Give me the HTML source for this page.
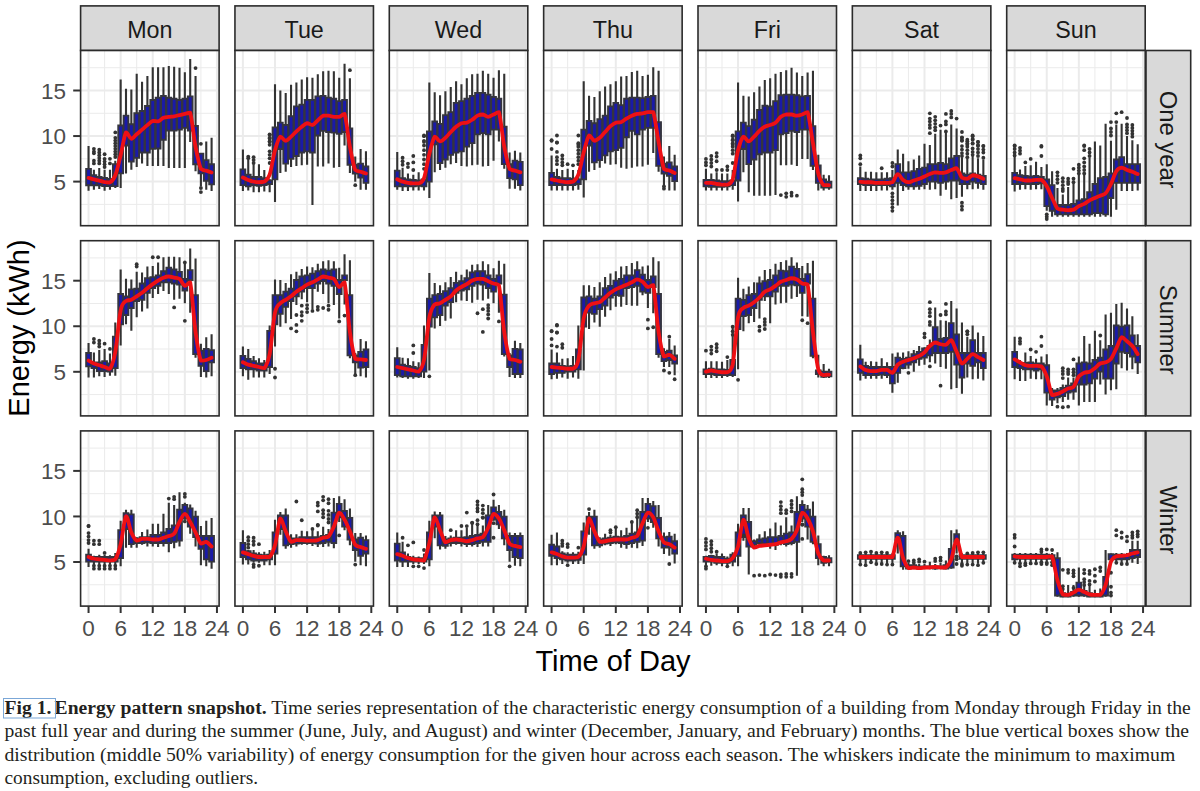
<!DOCTYPE html><html><head><meta charset="utf-8"><style>html,body{margin:0;padding:0;background:#fff;width:1200px;height:791px;overflow:hidden}svg{display:block}</style></head><body>
<svg width="1200" height="791" viewBox="0 0 1200 791">
<rect width="1200" height="791" fill="#fff"/>
<rect x="80.60" y="5.9" width="138.50" height="44.60" fill="#d9d9d9" stroke="#2b2b2b" stroke-width="1.6"/>
<text x="149.85" y="37.5" font-family="Liberation Sans" font-size="23.3" fill="#1a1a1a" text-anchor="middle">Mon</text>
<rect x="234.95" y="5.9" width="138.50" height="44.60" fill="#d9d9d9" stroke="#2b2b2b" stroke-width="1.6"/>
<text x="304.20" y="37.5" font-family="Liberation Sans" font-size="23.3" fill="#1a1a1a" text-anchor="middle">Tue</text>
<rect x="389.30" y="5.9" width="138.50" height="44.60" fill="#d9d9d9" stroke="#2b2b2b" stroke-width="1.6"/>
<text x="458.55" y="37.5" font-family="Liberation Sans" font-size="23.3" fill="#1a1a1a" text-anchor="middle">Wed</text>
<rect x="543.65" y="5.9" width="138.50" height="44.60" fill="#d9d9d9" stroke="#2b2b2b" stroke-width="1.6"/>
<text x="612.90" y="37.5" font-family="Liberation Sans" font-size="23.3" fill="#1a1a1a" text-anchor="middle">Thu</text>
<rect x="698.00" y="5.9" width="138.50" height="44.60" fill="#d9d9d9" stroke="#2b2b2b" stroke-width="1.6"/>
<text x="767.25" y="37.5" font-family="Liberation Sans" font-size="23.3" fill="#1a1a1a" text-anchor="middle">Fri</text>
<rect x="852.35" y="5.9" width="138.50" height="44.60" fill="#d9d9d9" stroke="#2b2b2b" stroke-width="1.6"/>
<text x="921.60" y="37.5" font-family="Liberation Sans" font-size="23.3" fill="#1a1a1a" text-anchor="middle">Sat</text>
<rect x="1006.70" y="5.9" width="138.50" height="44.60" fill="#d9d9d9" stroke="#2b2b2b" stroke-width="1.6"/>
<text x="1075.95" y="37.5" font-family="Liberation Sans" font-size="23.3" fill="#1a1a1a" text-anchor="middle">Sun</text>
<rect x="1146" y="50.50" width="44.7" height="175.20" fill="#d9d9d9" stroke="#2b2b2b" stroke-width="1.6"/>
<text transform="translate(1160,139.60) rotate(90)" x="0" y="0" font-family="Liberation Sans" font-size="23.8" fill="#1a1a1a" text-anchor="middle">One year</text>
<rect x="1146" y="240.70" width="44.7" height="175.20" fill="#d9d9d9" stroke="#2b2b2b" stroke-width="1.6"/>
<text transform="translate(1160,329.80) rotate(90)" x="0" y="0" font-family="Liberation Sans" font-size="23.8" fill="#1a1a1a" text-anchor="middle">Summer</text>
<rect x="1146" y="430.90" width="44.7" height="175.20" fill="#d9d9d9" stroke="#2b2b2b" stroke-width="1.6"/>
<text transform="translate(1160,520.00) rotate(90)" x="0" y="0" font-family="Liberation Sans" font-size="23.8" fill="#1a1a1a" text-anchor="middle">Winter</text>
<rect x="80.60" y="50.50" width="138.50" height="175.20" fill="#fff"/>
<path d="M104.60 50.50V225.70M136.70 50.50V225.70M168.80 50.50V225.70M200.90 50.50V225.70M80.60 204.38H219.10M80.60 158.82H219.10M80.60 113.28H219.10M80.60 67.72H219.10" stroke="#ebebeb" stroke-width="1" fill="none"/>
<path d="M88.55 50.50V225.70M120.65 50.50V225.70M152.75 50.50V225.70M184.85 50.50V225.70M216.95 50.50V225.70M80.60 181.60H219.10M80.60 136.05H219.10M80.60 90.50H219.10" stroke="#ebebeb" stroke-width="2" fill="none"/>
<path d="M88.55 146.07V190.71M93.90 169.76V189.80M99.25 167.94V188.89M104.60 169.76V190.71M109.95 169.76V189.80M115.30 160.65V187.98M120.65 79.57V187.98M126.00 88.68V173.40M131.35 89.59V169.76M136.70 73.65V167.02M142.05 81.85V163.38M147.40 75.92V166.11M152.75 67.27V166.11M158.10 67.27V166.11M163.45 67.27V166.11M168.80 65.90V167.94M174.15 66.81V167.94M179.50 67.72V167.94M184.85 72.28V167.94M190.20 59.07V141.97M195.55 75.92V171.21M200.90 153.36V186.16M206.25 141.52V189.80M211.60 137.87V190.98" stroke="#333" stroke-width="2.1" fill="none"/>
<path d="M86.15 168.85h4.8V185.24h-4.8ZM91.50 175.22h4.8V185.24h-4.8ZM96.85 177.04h4.8V185.24h-4.8ZM102.20 177.96h4.8V186.16h-4.8ZM107.55 178.87h4.8V186.16h-4.8ZM112.90 164.29h4.8V186.16h-4.8ZM118.25 125.57h4.8V173.40h-4.8ZM123.60 115.64h4.8V145.52h-4.8ZM128.95 124.21h4.8V161.56h-4.8ZM134.30 113.28h4.8V157.91h-4.8ZM139.65 111.00h4.8V152.45h-4.8ZM145.00 105.99h4.8V152.45h-4.8ZM150.35 99.97h4.8V148.80h-4.8ZM155.70 97.79h4.8V148.44h-4.8ZM161.05 95.97h4.8V139.69h-4.8ZM166.40 97.79h4.8V130.58h-4.8ZM171.75 98.70h4.8V130.58h-4.8ZM177.10 99.97h4.8V129.67h-4.8ZM182.45 98.70h4.8V127.85h-4.8ZM187.80 96.42h4.8V130.58h-4.8ZM193.15 126.03h4.8V164.29h-4.8ZM198.50 153.63h4.8V173.40h-4.8ZM203.85 160.10h4.8V180.69h-4.8ZM209.20 164.29h4.8V184.33h-4.8Z" stroke="#35353f" stroke-width="1.9" fill="#1a1aa8"/>
<g fill="#333"><circle cx="93.90" cy="148.80" r="1.9"/><circle cx="93.90" cy="151.54" r="1.9"/><circle cx="93.90" cy="153.36" r="1.9"/><circle cx="93.90" cy="160.65" r="1.9"/><circle cx="93.90" cy="163.38" r="1.9"/><circle cx="99.25" cy="149.72" r="1.9"/><circle cx="99.25" cy="152.45" r="1.9"/><circle cx="99.25" cy="155.18" r="1.9"/><circle cx="99.25" cy="157.91" r="1.9"/><circle cx="99.25" cy="160.65" r="1.9"/><circle cx="99.25" cy="163.38" r="1.9"/><circle cx="104.60" cy="154.27" r="1.9"/><circle cx="104.60" cy="158.82" r="1.9"/><circle cx="104.60" cy="161.56" r="1.9"/><circle cx="104.60" cy="164.29" r="1.9"/><circle cx="104.60" cy="167.02" r="1.9"/><circle cx="109.95" cy="158.82" r="1.9"/><circle cx="109.95" cy="163.38" r="1.9"/><circle cx="115.30" cy="132.41" r="1.9"/><circle cx="115.30" cy="137.87" r="1.9"/><circle cx="115.30" cy="140.60" r="1.9"/><circle cx="115.30" cy="143.34" r="1.9"/><circle cx="115.30" cy="146.07" r="1.9"/><circle cx="115.30" cy="148.80" r="1.9"/><circle cx="115.30" cy="151.54" r="1.9"/><circle cx="115.30" cy="154.27" r="1.9"/><circle cx="115.30" cy="157.00" r="1.9"/><circle cx="195.55" cy="68.09" r="1.9"/><circle cx="200.90" cy="143.79" r="1.9"/><circle cx="200.90" cy="187.98" r="1.9"/><circle cx="200.90" cy="192.08" r="1.9"/></g>
<path d="M88.55 177.96C89.44 178.19 92.12 178.87 93.90 179.32C95.68 179.77 97.47 180.23 99.25 180.69C101.03 181.15 102.82 181.76 104.60 182.06C106.38 182.36 108.17 182.51 109.95 182.51C111.73 181.37 113.52 179.78 115.30 175.22C117.08 170.66 118.87 162.31 120.65 155.18C122.43 148.05 124.22 135.14 126.00 132.41C127.78 132.41 129.57 138.48 131.35 138.78C133.13 138.78 134.92 135.75 136.70 134.23C138.48 132.71 140.27 131.19 142.05 129.67C143.83 128.15 145.62 126.58 147.40 125.12C149.18 123.66 150.97 121.54 152.75 120.93C154.53 120.93 156.32 121.47 158.10 121.47C159.88 120.95 161.67 118.59 163.45 117.83C165.23 117.07 167.02 117.18 168.80 116.92C170.58 116.66 172.37 116.58 174.15 116.28C175.93 115.98 177.72 115.49 179.50 115.10C181.28 114.70 183.07 114.30 184.85 113.91C186.63 113.52 188.42 112.73 190.20 112.73C191.98 118.24 193.77 137.63 195.55 146.98C197.33 156.33 199.12 164.90 200.90 168.85C202.68 170.67 204.47 170.06 206.25 170.67C208.03 171.28 210.71 172.19 211.60 172.49" stroke="#ee1014" stroke-width="3.8" stroke-linecap="round" fill="none" stroke-linejoin="round"/>
<rect x="80.60" y="50.50" width="138.50" height="175.20" fill="none" stroke="#2b2b2b" stroke-width="1.6"/>
<rect x="234.95" y="50.50" width="138.50" height="175.20" fill="#fff"/>
<path d="M258.95 50.50V225.70M291.05 50.50V225.70M323.15 50.50V225.70M355.25 50.50V225.70M234.95 204.38H373.45M234.95 158.82H373.45M234.95 113.28H373.45M234.95 67.72H373.45" stroke="#ebebeb" stroke-width="1" fill="none"/>
<path d="M242.90 50.50V225.70M275.00 50.50V225.70M307.10 50.50V225.70M339.20 50.50V225.70M371.30 50.50V225.70M234.95 181.60H373.45M234.95 136.05H373.45M234.95 90.50H373.45" stroke="#ebebeb" stroke-width="2" fill="none"/>
<path d="M242.90 149.58V191.00M248.25 160.08V190.42M253.60 164.17V192.17M258.95 164.17V192.17M264.30 170.00V191.58M269.65 179.33V192.17M275.00 84.17V202.08M280.35 90.58V172.92M285.70 92.92V171.75M291.05 84.75V167.08M296.40 82.42V165.92M301.75 79.50V165.33M307.10 77.17V164.75M312.45 77.75V205.00M317.80 74.25V166.50M323.15 71.33V166.50M328.50 70.75V163.58M333.85 71.33V167.67M339.20 77.75V167.08M344.55 63.75V145.50M349.90 78.33V172.92M355.25 156.58V181.67M360.60 149.00V189.83M365.95 151.33V189.83" stroke="#333" stroke-width="2.1" fill="none"/>
<path d="M240.50 169.42h4.8V185.17h-4.8ZM245.85 174.67h4.8V186.33h-4.8ZM251.20 177.00h4.8V185.17h-4.8ZM256.55 177.00h4.8V185.75h-4.8ZM261.90 178.17h4.8V185.17h-4.8ZM267.25 180.50h4.8V184.00h-4.8ZM272.60 127.33h4.8V179.33h-4.8ZM277.95 122.67h4.8V149.00h-4.8ZM283.30 125.00h4.8V163.58h-4.8ZM288.65 116.25h4.8V158.92h-4.8ZM294.00 106.33h4.8V156.00h-4.8ZM299.35 104.58h4.8V152.50h-4.8ZM304.70 99.92h4.8V151.33h-4.8ZM310.05 99.92h4.8V152.50h-4.8ZM315.40 96.42h4.8V135.50h-4.8ZM320.75 95.83h4.8V130.83h-4.8ZM326.10 97.58h4.8V132.00h-4.8ZM331.45 98.75h4.8V132.58h-4.8ZM336.80 101.08h4.8V133.75h-4.8ZM342.15 99.92h4.8V132.00h-4.8ZM347.50 128.50h4.8V164.75h-4.8ZM352.85 164.75h4.8V173.50h-4.8ZM358.20 163.58h4.8V177.58h-4.8ZM363.55 166.50h4.8V182.83h-4.8Z" stroke="#35353f" stroke-width="1.9" fill="#1a1aa8"/>
<g fill="#333"><circle cx="248.25" cy="156.58" r="1.9"/><circle cx="248.25" cy="158.33" r="1.9"/><circle cx="253.60" cy="157.17" r="1.9"/><circle cx="253.60" cy="160.08" r="1.9"/><circle cx="253.60" cy="163.00" r="1.9"/><circle cx="269.65" cy="134.33" r="1.9"/><circle cx="269.65" cy="137.83" r="1.9"/><circle cx="269.65" cy="141.33" r="1.9"/><circle cx="269.65" cy="144.83" r="1.9"/><circle cx="269.65" cy="135.00" r="1.9"/><circle cx="269.65" cy="138.50" r="1.9"/><circle cx="269.65" cy="142.00" r="1.9"/><circle cx="269.65" cy="151.33" r="1.9"/><circle cx="269.65" cy="154.83" r="1.9"/><circle cx="269.65" cy="158.33" r="1.9"/><circle cx="269.65" cy="163.00" r="1.9"/><circle cx="349.90" cy="70.17" r="1.9"/><circle cx="355.25" cy="185.17" r="1.9"/></g>
<path d="M242.90 177.58C243.79 177.97 246.47 179.24 248.25 179.92C250.03 180.60 251.82 181.28 253.60 181.67C255.38 182.06 257.17 182.25 258.95 182.25C260.73 182.25 262.52 182.25 264.30 181.67C266.08 180.41 267.87 179.92 269.65 174.67C271.43 169.42 273.22 156.50 275.00 150.17C276.78 143.84 278.57 138.24 280.35 136.67C282.13 136.67 283.92 140.75 285.70 140.75C287.48 140.75 289.27 138.22 291.05 136.67C292.83 135.11 294.62 133.07 296.40 131.42C298.18 129.77 299.97 128.11 301.75 126.75C303.53 125.39 305.32 123.54 307.10 123.25C308.88 123.25 310.67 125.00 312.45 125.00C314.23 124.51 316.02 121.88 317.80 120.33C319.58 118.78 321.37 116.45 323.15 115.67C324.93 115.67 326.72 115.67 328.50 115.67C330.28 115.86 332.07 116.64 333.85 116.83C335.63 116.83 337.42 116.83 339.20 116.83C340.98 116.34 342.77 113.92 344.55 113.92C346.33 118.89 348.12 137.32 349.90 146.67C351.68 156.02 353.47 165.82 355.25 170.00C357.03 171.75 358.82 171.17 360.60 171.75C362.38 172.33 365.06 173.21 365.95 173.50" stroke="#ee1014" stroke-width="3.8" stroke-linecap="round" fill="none" stroke-linejoin="round"/>
<rect x="234.95" y="50.50" width="138.50" height="175.20" fill="none" stroke="#2b2b2b" stroke-width="1.6"/>
<rect x="389.30" y="50.50" width="138.50" height="175.20" fill="#fff"/>
<path d="M413.30 50.50V225.70M445.40 50.50V225.70M477.50 50.50V225.70M509.60 50.50V225.70M389.30 204.38H527.80M389.30 158.82H527.80M389.30 113.28H527.80M389.30 67.72H527.80" stroke="#ebebeb" stroke-width="1" fill="none"/>
<path d="M397.25 50.50V225.70M429.35 50.50V225.70M461.45 50.50V225.70M493.55 50.50V225.70M525.65 50.50V225.70M389.30 181.60H527.80M389.30 136.05H527.80M389.30 90.50H527.80" stroke="#ebebeb" stroke-width="2" fill="none"/>
<path d="M397.25 151.92V189.83M402.60 167.67V191.00M407.95 173.50V191.00M413.30 174.67V190.42M418.65 172.33V190.42M424.00 179.33V190.42M429.35 82.42V198.00M434.70 92.33V172.33M440.05 95.25V170.00M445.40 91.17V167.67M450.75 87.08V164.17M456.10 81.25V163.00M461.45 84.17V165.92M466.80 78.33V166.50M472.15 74.25V165.33M477.50 73.67V164.75M482.85 70.75V166.50M488.20 73.67V165.92M493.55 77.75V160.67M498.90 70.17V141.42M504.25 73.67V168.83M509.60 152.50V188.67M514.95 150.75V188.67M520.30 152.50V190.42" stroke="#333" stroke-width="2.1" fill="none"/>
<path d="M394.85 170.58h4.8V186.33h-4.8ZM400.20 178.17h4.8V186.33h-4.8ZM405.55 179.33h4.8V186.33h-4.8ZM410.90 179.92h4.8V186.33h-4.8ZM416.25 180.50h4.8V185.75h-4.8ZM421.60 179.33h4.8V186.33h-4.8ZM426.95 131.42h4.8V181.67h-4.8ZM432.30 121.50h4.8V144.33h-4.8ZM437.65 123.83h4.8V163.00h-4.8ZM443.00 115.08h4.8V159.50h-4.8ZM448.35 112.17h4.8V154.83h-4.8ZM453.70 102.83h4.8V152.50h-4.8ZM459.05 101.08h4.8V151.33h-4.8ZM464.40 98.75h4.8V146.67h-4.8ZM469.75 95.83h4.8V143.17h-4.8ZM475.10 92.92h4.8V134.33h-4.8ZM480.45 92.92h4.8V133.17h-4.8ZM485.80 94.67h4.8V134.33h-4.8ZM491.15 97.00h4.8V129.67h-4.8ZM496.50 98.75h4.8V129.67h-4.8ZM501.85 126.75h4.8V164.17h-4.8ZM507.20 164.17h4.8V178.17h-4.8ZM512.55 160.67h4.8V179.33h-4.8ZM517.90 161.83h4.8V185.17h-4.8Z" stroke="#35353f" stroke-width="1.9" fill="#1a1aa8"/>
<g fill="#333"><circle cx="402.60" cy="157.75" r="1.9"/><circle cx="402.60" cy="161.25" r="1.9"/><circle cx="402.60" cy="164.75" r="1.9"/><circle cx="407.95" cy="163.58" r="1.9"/><circle cx="407.95" cy="167.08" r="1.9"/><circle cx="413.30" cy="156.00" r="1.9"/><circle cx="413.30" cy="162.42" r="1.9"/><circle cx="413.30" cy="170.00" r="1.9"/><circle cx="424.00" cy="135.50" r="1.9"/><circle cx="424.00" cy="141.92" r="1.9"/><circle cx="424.00" cy="136.17" r="1.9"/><circle cx="424.00" cy="140.83" r="1.9"/><circle cx="424.00" cy="145.50" r="1.9"/><circle cx="424.00" cy="150.17" r="1.9"/><circle cx="424.00" cy="154.83" r="1.9"/><circle cx="424.00" cy="159.50" r="1.9"/><circle cx="424.00" cy="164.17" r="1.9"/><circle cx="424.00" cy="168.83" r="1.9"/></g>
<path d="M397.25 179.33C398.14 179.72 400.82 181.09 402.60 181.67C404.38 182.25 406.17 182.54 407.95 182.83C409.73 183.12 411.52 183.32 413.30 183.42C415.08 183.42 416.87 183.42 418.65 183.42C420.43 182.54 422.22 183.13 424.00 178.17C425.78 173.21 427.57 160.59 429.35 153.67C431.13 146.75 432.92 138.73 434.70 136.67C436.48 136.67 438.27 141.14 440.05 141.33C441.83 141.33 443.62 139.39 445.40 137.83C447.18 136.28 448.97 133.85 450.75 132.00C452.53 130.15 454.32 128.21 456.10 126.75C457.88 125.29 459.67 123.93 461.45 123.25C463.23 122.67 465.02 123.25 466.80 122.67C468.58 122.09 470.37 120.92 472.15 119.75C473.93 118.58 475.72 116.55 477.50 115.67C479.28 114.80 481.07 114.50 482.85 114.50C484.63 114.69 486.42 116.83 488.20 116.83C489.98 116.83 491.77 115.28 493.55 114.50C495.33 113.72 497.12 112.17 498.90 112.17C500.68 117.53 502.47 137.23 504.25 146.67C506.03 156.11 507.82 164.84 509.60 168.83C511.38 170.58 513.17 170.00 514.95 170.58C516.73 171.16 519.41 172.04 520.30 172.33" stroke="#ee1014" stroke-width="3.8" stroke-linecap="round" fill="none" stroke-linejoin="round"/>
<rect x="389.30" y="50.50" width="138.50" height="175.20" fill="none" stroke="#2b2b2b" stroke-width="1.6"/>
<rect x="543.65" y="50.50" width="138.50" height="175.20" fill="#fff"/>
<path d="M567.65 50.50V225.70M599.75 50.50V225.70M631.85 50.50V225.70M663.95 50.50V225.70M543.65 204.38H682.15M543.65 158.82H682.15M543.65 113.28H682.15M543.65 67.72H682.15" stroke="#ebebeb" stroke-width="1" fill="none"/>
<path d="M551.60 50.50V225.70M583.70 50.50V225.70M615.80 50.50V225.70M647.90 50.50V225.70M680.00 50.50V225.70M543.65 181.60H682.15M543.65 136.05H682.15M543.65 90.50H682.15" stroke="#ebebeb" stroke-width="2" fill="none"/>
<path d="M551.60 155.42V190.42M556.95 168.83V190.42M562.30 170.00V190.42M567.65 168.83V190.42M573.00 170.00V190.42M578.35 170.00V189.83M583.70 81.25V197.42M589.05 95.83V171.75M594.40 97.00V170.00M599.75 91.17V167.67M605.10 86.50V163.58M610.45 84.17V164.75M615.80 81.25V164.17M621.15 76.58V167.67M626.50 76.00V168.83M631.85 71.92V167.67M637.20 70.75V166.50M642.55 76.00V166.50M647.90 74.83V164.75M653.25 67.25V153.08M658.60 70.75V171.75M663.95 156.58V185.17M669.30 146.08V190.42M674.65 154.83V190.42" stroke="#333" stroke-width="2.1" fill="none"/>
<path d="M549.20 172.92h4.8V185.17h-4.8ZM554.55 177.00h4.8V185.17h-4.8ZM559.90 178.17h4.8V185.17h-4.8ZM565.25 178.17h4.8V185.17h-4.8ZM570.60 178.75h4.8V185.17h-4.8ZM575.95 179.33h4.8V184.00h-4.8ZM581.30 129.67h4.8V179.33h-4.8ZM586.65 120.92h4.8V145.50h-4.8ZM592.00 123.25h4.8V162.42h-4.8ZM597.35 119.17h4.8V160.08h-4.8ZM602.70 115.67h4.8V155.42h-4.8ZM608.05 106.33h4.8V151.33h-4.8ZM613.40 102.83h4.8V150.17h-4.8ZM618.75 105.17h4.8V147.83h-4.8ZM624.10 98.75h4.8V137.25h-4.8ZM629.45 97.58h4.8V130.83h-4.8ZM634.80 97.58h4.8V134.33h-4.8ZM640.15 98.17h4.8V129.67h-4.8ZM645.50 97.00h4.8V127.92h-4.8ZM650.85 95.83h4.8V127.92h-4.8ZM656.20 122.08h4.8V165.92h-4.8ZM661.55 163.58h4.8V173.50h-4.8ZM666.90 162.42h4.8V175.83h-4.8ZM672.25 166.50h4.8V181.08h-4.8Z" stroke="#35353f" stroke-width="1.9" fill="#1a1aa8"/>
<g fill="#333"><circle cx="551.60" cy="140.75" r="1.9"/><circle cx="551.60" cy="140.25" r="1.9"/><circle cx="551.60" cy="149.00" r="1.9"/><circle cx="556.95" cy="135.50" r="1.9"/><circle cx="556.95" cy="142.50" r="1.9"/><circle cx="556.95" cy="142.58" r="1.9"/><circle cx="556.95" cy="151.92" r="1.9"/><circle cx="556.95" cy="157.17" r="1.9"/><circle cx="556.95" cy="160.67" r="1.9"/><circle cx="556.95" cy="164.17" r="1.9"/><circle cx="562.30" cy="155.42" r="1.9"/><circle cx="562.30" cy="158.92" r="1.9"/><circle cx="562.30" cy="162.42" r="1.9"/><circle cx="562.30" cy="165.33" r="1.9"/><circle cx="567.65" cy="164.17" r="1.9"/><circle cx="573.00" cy="165.33" r="1.9"/><circle cx="578.35" cy="135.50" r="1.9"/><circle cx="578.35" cy="144.83" r="1.9"/><circle cx="578.35" cy="143.17" r="1.9"/><circle cx="578.35" cy="146.67" r="1.9"/><circle cx="578.35" cy="150.17" r="1.9"/><circle cx="578.35" cy="153.67" r="1.9"/><circle cx="578.35" cy="157.17" r="1.9"/><circle cx="578.35" cy="160.67" r="1.9"/><circle cx="578.35" cy="164.17" r="1.9"/><circle cx="663.95" cy="186.33" r="1.9"/><circle cx="663.95" cy="188.67" r="1.9"/></g>
<path d="M551.60 179.33C552.49 179.53 555.17 180.11 556.95 180.50C558.73 180.89 560.52 181.38 562.30 181.67C564.08 181.96 565.87 182.25 567.65 182.25C569.43 182.25 571.22 182.25 573.00 181.67C574.78 180.41 576.57 179.53 578.35 174.67C580.13 169.81 581.92 159.03 583.70 152.50C585.48 145.97 587.27 137.46 589.05 135.50C590.83 135.50 592.62 140.36 594.40 140.75C596.18 140.75 597.97 139.29 599.75 137.83C601.53 136.37 603.32 133.94 605.10 132.00C606.88 130.06 608.67 127.72 610.45 126.17C612.23 124.62 614.02 123.35 615.80 122.67C617.58 122.08 619.37 122.67 621.15 122.08C622.93 121.40 624.72 119.65 626.50 118.58C628.28 117.51 630.07 116.45 631.85 115.67C633.63 114.89 635.42 114.31 637.20 113.92C638.98 113.53 640.77 113.62 642.55 113.33C644.33 113.04 646.12 112.36 647.90 112.17C649.68 112.17 651.47 112.17 653.25 112.17C655.03 117.14 656.82 132.56 658.60 142.00C660.38 151.44 662.17 164.07 663.95 168.83C665.73 170.58 667.52 169.90 669.30 170.58C671.08 171.26 673.76 172.53 674.65 172.92" stroke="#ee1014" stroke-width="3.8" stroke-linecap="round" fill="none" stroke-linejoin="round"/>
<rect x="543.65" y="50.50" width="138.50" height="175.20" fill="none" stroke="#2b2b2b" stroke-width="1.6"/>
<rect x="698.00" y="50.50" width="138.50" height="175.20" fill="#fff"/>
<path d="M722.00 50.50V225.70M754.10 50.50V225.70M786.20 50.50V225.70M818.30 50.50V225.70M698.00 204.38H836.50M698.00 158.82H836.50M698.00 113.28H836.50M698.00 67.72H836.50" stroke="#ebebeb" stroke-width="1" fill="none"/>
<path d="M705.95 50.50V225.70M738.05 50.50V225.70M770.15 50.50V225.70M802.25 50.50V225.70M834.35 50.50V225.70M698.00 181.60H836.50M698.00 136.05H836.50M698.00 90.50H836.50" stroke="#ebebeb" stroke-width="2" fill="none"/>
<path d="M705.95 168.83V190.42M711.30 173.50V190.42M716.65 172.33V190.42M722.00 173.50V190.42M727.35 173.50V190.42M732.70 170.00V189.83M738.05 82.42V201.50M743.40 95.83V172.33M748.75 96.42V192.17M754.10 92.33V195.67M759.45 86.50V195.67M764.80 80.08V195.67M770.15 78.33V195.67M775.50 73.67V195.08M780.85 71.92V165.33M786.20 70.17V165.33M791.55 67.83V164.75M796.90 72.50V165.92M802.25 76.00V158.92M807.60 72.50V158.92M812.95 70.75V170.00M818.30 154.83V190.42M823.65 174.67V190.42M829.00 175.25V189.83" stroke="#333" stroke-width="2.1" fill="none"/>
<path d="M703.55 179.92h4.8V186.33h-4.8ZM708.90 179.92h4.8V186.92h-4.8ZM714.25 180.50h4.8V186.92h-4.8ZM719.60 181.08h4.8V186.92h-4.8ZM724.95 181.08h4.8V186.33h-4.8ZM730.30 180.50h4.8V185.17h-4.8ZM735.65 131.42h4.8V180.50h-4.8ZM741.00 122.67h4.8V149.00h-4.8ZM746.35 126.17h4.8V164.17h-4.8ZM751.70 119.75h4.8V159.50h-4.8ZM757.05 109.83h4.8V154.25h-4.8ZM762.40 105.75h4.8V152.50h-4.8ZM767.75 106.33h4.8V152.50h-4.8ZM773.10 101.08h4.8V150.17h-4.8ZM778.45 95.25h4.8V134.33h-4.8ZM783.80 94.67h4.8V133.17h-4.8ZM789.15 94.67h4.8V130.83h-4.8ZM794.50 95.25h4.8V132.00h-4.8ZM799.85 96.42h4.8V129.67h-4.8ZM805.20 95.83h4.8V129.67h-4.8ZM810.55 126.17h4.8V165.92h-4.8ZM815.90 165.33h4.8V182.83h-4.8ZM821.25 179.33h4.8V187.50h-4.8ZM826.60 181.67h4.8V187.50h-4.8Z" stroke="#35353f" stroke-width="1.9" fill="#1a1aa8"/>
<g fill="#333"><circle cx="705.95" cy="158.92" r="1.9"/><circle cx="705.95" cy="162.42" r="1.9"/><circle cx="705.95" cy="165.33" r="1.9"/><circle cx="711.30" cy="156.00" r="1.9"/><circle cx="711.30" cy="159.50" r="1.9"/><circle cx="711.30" cy="163.00" r="1.9"/><circle cx="711.30" cy="166.50" r="1.9"/><circle cx="716.65" cy="153.08" r="1.9"/><circle cx="716.65" cy="156.58" r="1.9"/><circle cx="716.65" cy="161.25" r="1.9"/><circle cx="716.65" cy="170.00" r="1.9"/><circle cx="722.00" cy="170.00" r="1.9"/><circle cx="727.35" cy="166.50" r="1.9"/><circle cx="727.35" cy="170.00" r="1.9"/><circle cx="732.70" cy="135.50" r="1.9"/><circle cx="732.70" cy="140.17" r="1.9"/><circle cx="732.70" cy="144.83" r="1.9"/><circle cx="732.70" cy="136.17" r="1.9"/><circle cx="732.70" cy="139.67" r="1.9"/><circle cx="732.70" cy="143.17" r="1.9"/><circle cx="732.70" cy="146.67" r="1.9"/><circle cx="732.70" cy="150.17" r="1.9"/><circle cx="732.70" cy="153.67" r="1.9"/><circle cx="732.70" cy="163.00" r="1.9"/><circle cx="780.85" cy="195.08" r="1.9"/><circle cx="786.20" cy="193.33" r="1.9"/><circle cx="786.20" cy="196.83" r="1.9"/><circle cx="791.55" cy="192.75" r="1.9"/><circle cx="791.55" cy="195.67" r="1.9"/><circle cx="796.90" cy="195.67" r="1.9"/></g>
<path d="M705.95 182.83C706.84 182.83 709.52 182.83 711.30 182.83C713.08 183.03 714.87 183.71 716.65 184.00C718.43 184.29 720.22 184.48 722.00 184.58C723.78 184.58 725.57 184.58 727.35 184.58C729.13 183.71 730.92 184.58 732.70 179.33C734.48 173.59 736.27 157.28 738.05 150.17C739.83 143.06 741.62 138.14 743.40 136.67C745.18 136.67 746.97 141.33 748.75 141.33C750.53 141.33 752.32 138.42 754.10 136.67C755.88 134.92 757.67 132.48 759.45 130.83C761.23 129.18 763.02 127.72 764.80 126.75C766.58 125.78 768.37 125.68 770.15 125.00C771.93 124.32 773.72 124.03 775.50 122.67C777.28 121.31 779.07 118.19 780.85 116.83C782.63 115.47 784.42 114.89 786.20 114.50C787.98 114.50 789.77 114.50 791.55 114.50C793.33 114.69 795.12 115.67 796.90 115.67C798.68 115.67 800.47 115.08 802.25 114.50C804.03 113.92 805.82 112.17 807.60 112.17C809.38 116.95 811.17 132.95 812.95 143.17C814.73 153.39 816.52 166.50 818.30 173.50C820.08 180.50 821.87 183.22 823.65 185.17C825.43 185.17 828.11 185.17 829.00 185.17" stroke="#ee1014" stroke-width="3.8" stroke-linecap="round" fill="none" stroke-linejoin="round"/>
<rect x="698.00" y="50.50" width="138.50" height="175.20" fill="none" stroke="#2b2b2b" stroke-width="1.6"/>
<rect x="852.35" y="50.50" width="138.50" height="175.20" fill="#fff"/>
<path d="M876.35 50.50V225.70M908.45 50.50V225.70M940.55 50.50V225.70M972.65 50.50V225.70M852.35 204.38H990.85M852.35 158.82H990.85M852.35 113.28H990.85M852.35 67.72H990.85" stroke="#ebebeb" stroke-width="1" fill="none"/>
<path d="M860.30 50.50V225.70M892.40 50.50V225.70M924.50 50.50V225.70M956.60 50.50V225.70M988.70 50.50V225.70M852.35 181.60H990.85M852.35 136.05H990.85M852.35 90.50H990.85" stroke="#ebebeb" stroke-width="2" fill="none"/>
<path d="M860.30 166.50V191.00M865.65 171.75V191.00M871.00 171.75V191.00M876.35 172.33V191.00M881.70 172.33V190.42M887.05 172.33V190.42M892.40 170.00V189.83M897.75 149.58V205.58M903.10 153.67V191.00M908.45 161.25V189.83M913.80 159.50V189.83M919.15 155.42V189.83M924.50 143.75V189.25M929.85 144.92V189.83M935.20 133.83V189.25M940.55 129.67V195.67M945.90 132.00V189.83M951.25 124.42V199.17M956.60 128.50V198.00M961.95 157.17V196.83M967.30 158.33V189.25M972.65 156.00V189.25M978.00 158.33V188.67M983.35 159.50V189.83" stroke="#333" stroke-width="2.1" fill="none"/>
<path d="M857.90 178.17h4.8V184.00h-4.8ZM863.25 178.75h4.8V185.17h-4.8ZM868.60 179.33h4.8V185.17h-4.8ZM873.95 179.33h4.8V185.17h-4.8ZM879.30 179.33h4.8V185.17h-4.8ZM884.65 178.75h4.8V185.17h-4.8ZM890.00 178.17h4.8V186.33h-4.8ZM895.35 164.17h4.8V182.83h-4.8ZM900.70 172.33h4.8V185.17h-4.8ZM906.05 172.33h4.8V186.33h-4.8ZM911.40 171.17h4.8V186.33h-4.8ZM916.75 168.83h4.8V185.75h-4.8ZM922.10 167.67h4.8V184.00h-4.8ZM927.45 164.17h4.8V181.67h-4.8ZM932.80 164.17h4.8V181.67h-4.8ZM938.15 163.00h4.8V182.83h-4.8ZM943.50 164.17h4.8V181.67h-4.8ZM948.85 158.33h4.8V180.50h-4.8ZM954.20 156.00h4.8V180.50h-4.8ZM959.55 173.50h4.8V184.00h-4.8ZM964.90 174.67h4.8V184.00h-4.8ZM970.25 173.50h4.8V181.67h-4.8ZM975.60 174.67h4.8V182.83h-4.8ZM980.95 175.83h4.8V184.00h-4.8Z" stroke="#35353f" stroke-width="1.9" fill="#1a1aa8"/>
<g fill="#333"><circle cx="860.30" cy="155.42" r="1.9"/><circle cx="860.30" cy="158.33" r="1.9"/><circle cx="860.30" cy="164.17" r="1.9"/><circle cx="881.70" cy="168.25" r="1.9"/><circle cx="892.40" cy="163.00" r="1.9"/><circle cx="892.40" cy="166.50" r="1.9"/><circle cx="892.40" cy="193.33" r="1.9"/><circle cx="892.40" cy="196.83" r="1.9"/><circle cx="892.40" cy="200.33" r="1.9"/><circle cx="892.40" cy="203.83" r="1.9"/><circle cx="892.40" cy="207.33" r="1.9"/><circle cx="892.40" cy="210.83" r="1.9"/><circle cx="929.85" cy="113.33" r="1.9"/><circle cx="929.85" cy="118.58" r="1.9"/><circle cx="929.85" cy="121.50" r="1.9"/><circle cx="929.85" cy="125.00" r="1.9"/><circle cx="929.85" cy="127.92" r="1.9"/><circle cx="929.85" cy="133.17" r="1.9"/><circle cx="935.20" cy="116.83" r="1.9"/><circle cx="935.20" cy="120.33" r="1.9"/><circle cx="935.20" cy="123.83" r="1.9"/><circle cx="935.20" cy="127.33" r="1.9"/><circle cx="935.20" cy="130.25" r="1.9"/><circle cx="940.55" cy="125.58" r="1.9"/><circle cx="945.90" cy="113.92" r="1.9"/><circle cx="945.90" cy="121.50" r="1.9"/><circle cx="945.90" cy="124.42" r="1.9"/><circle cx="945.90" cy="131.42" r="1.9"/><circle cx="951.25" cy="111.00" r="1.9"/><circle cx="951.25" cy="113.92" r="1.9"/><circle cx="951.25" cy="117.42" r="1.9"/><circle cx="956.60" cy="118.58" r="1.9"/><circle cx="961.95" cy="132.00" r="1.9"/><circle cx="961.95" cy="137.83" r="1.9"/><circle cx="961.95" cy="140.75" r="1.9"/><circle cx="961.95" cy="137.33" r="1.9"/><circle cx="961.95" cy="140.25" r="1.9"/><circle cx="961.95" cy="146.08" r="1.9"/><circle cx="961.95" cy="149.58" r="1.9"/><circle cx="961.95" cy="153.08" r="1.9"/><circle cx="961.95" cy="156.00" r="1.9"/><circle cx="961.95" cy="202.67" r="1.9"/><circle cx="961.95" cy="206.17" r="1.9"/><circle cx="961.95" cy="209.67" r="1.9"/><circle cx="967.30" cy="141.33" r="1.9"/><circle cx="967.30" cy="144.83" r="1.9"/><circle cx="967.30" cy="139.67" r="1.9"/><circle cx="967.30" cy="143.17" r="1.9"/><circle cx="967.30" cy="146.67" r="1.9"/><circle cx="967.30" cy="150.17" r="1.9"/><circle cx="967.30" cy="153.67" r="1.9"/><circle cx="967.30" cy="157.17" r="1.9"/><circle cx="972.65" cy="135.50" r="1.9"/><circle cx="972.65" cy="139.00" r="1.9"/><circle cx="972.65" cy="143.67" r="1.9"/><circle cx="972.65" cy="136.17" r="1.9"/><circle cx="972.65" cy="139.67" r="1.9"/><circle cx="972.65" cy="143.17" r="1.9"/><circle cx="972.65" cy="148.42" r="1.9"/><circle cx="972.65" cy="151.92" r="1.9"/><circle cx="972.65" cy="154.83" r="1.9"/><circle cx="978.00" cy="141.92" r="1.9"/><circle cx="978.00" cy="145.42" r="1.9"/><circle cx="978.00" cy="142.00" r="1.9"/><circle cx="978.00" cy="145.50" r="1.9"/><circle cx="978.00" cy="149.00" r="1.9"/><circle cx="978.00" cy="152.50" r="1.9"/><circle cx="978.00" cy="156.00" r="1.9"/><circle cx="983.35" cy="146.00" r="1.9"/><circle cx="983.35" cy="146.08" r="1.9"/><circle cx="983.35" cy="149.58" r="1.9"/><circle cx="983.35" cy="152.50" r="1.9"/><circle cx="983.35" cy="157.75" r="1.9"/></g>
<path d="M860.30 181.67C861.19 181.77 863.87 182.15 865.65 182.25C867.43 182.25 869.22 182.25 871.00 182.25C872.78 182.35 874.57 182.73 876.35 182.83C878.13 182.83 879.92 182.83 881.70 182.83C883.48 182.83 885.27 182.83 887.05 182.83C888.83 182.73 890.62 182.83 892.40 182.25C894.18 180.79 895.97 174.47 897.75 174.08C899.53 174.08 901.32 178.56 903.10 179.92C904.88 181.28 906.67 182.15 908.45 182.25C910.23 182.25 912.02 181.08 913.80 180.50C915.58 179.92 917.37 179.43 919.15 178.75C920.93 178.07 922.72 177.20 924.50 176.42C926.28 175.64 928.07 174.76 929.85 174.08C931.63 173.40 933.42 172.52 935.20 172.33C936.98 172.33 938.77 172.92 940.55 172.92C942.33 172.92 944.12 172.82 945.90 172.33C947.68 171.84 949.47 170.68 951.25 170.00C953.03 169.32 954.82 168.25 956.60 168.25C958.38 169.51 960.17 175.83 961.95 177.58C963.73 178.75 965.52 178.75 967.30 178.75C969.08 178.36 970.87 175.64 972.65 175.25C974.43 175.25 976.22 175.84 978.00 176.42C979.78 177.00 982.46 178.36 983.35 178.75" stroke="#ee1014" stroke-width="3.8" stroke-linecap="round" fill="none" stroke-linejoin="round"/>
<rect x="852.35" y="50.50" width="138.50" height="175.20" fill="none" stroke="#2b2b2b" stroke-width="1.6"/>
<rect x="1006.70" y="50.50" width="138.50" height="175.20" fill="#fff"/>
<path d="M1030.70 50.50V225.70M1062.80 50.50V225.70M1094.90 50.50V225.70M1127.00 50.50V225.70M1006.70 204.38H1145.20M1006.70 158.82H1145.20M1006.70 113.28H1145.20M1006.70 67.72H1145.20" stroke="#ebebeb" stroke-width="1" fill="none"/>
<path d="M1014.65 50.50V225.70M1046.75 50.50V225.70M1078.85 50.50V225.70M1110.95 50.50V225.70M1143.05 50.50V225.70M1006.70 181.60H1145.20M1006.70 136.05H1145.20M1006.70 90.50H1145.20" stroke="#ebebeb" stroke-width="2" fill="none"/>
<path d="M1014.65 155.42V191.58M1020.00 169.42V189.83M1025.35 165.92V189.25M1030.70 165.33V189.83M1036.05 161.83V189.25M1041.40 167.08V189.25M1046.75 164.17V210.83M1052.10 171.17V216.67M1057.45 188.08V216.67M1062.80 194.50V216.67M1068.15 186.92V216.67M1073.50 184.00V216.67M1078.85 174.67V216.67M1084.20 173.50V216.67M1089.55 157.75V216.67M1094.90 141.42V216.67M1100.25 145.50V216.67M1105.60 123.83V216.67M1110.95 140.83V216.67M1116.30 124.42V209.67M1121.65 123.83V191.00M1127.00 136.08V191.00M1132.35 140.25V191.00M1137.70 144.33V190.42" stroke="#333" stroke-width="2.1" fill="none"/>
<path d="M1012.25 172.92h4.8V184.00h-4.8ZM1017.60 175.25h4.8V184.00h-4.8ZM1022.95 175.83h4.8V184.00h-4.8ZM1028.30 176.42h4.8V184.00h-4.8ZM1033.65 175.83h4.8V184.00h-4.8ZM1039.00 177.00h4.8V183.42h-4.8ZM1044.35 179.33h4.8V206.17h-4.8ZM1049.70 185.17h4.8V210.83h-4.8ZM1055.05 205.00h4.8V214.33h-4.8ZM1060.40 205.00h4.8V214.33h-4.8ZM1065.75 205.00h4.8V214.33h-4.8ZM1071.10 203.83h4.8V214.33h-4.8ZM1076.45 200.33h4.8V214.33h-4.8ZM1081.80 199.17h4.8V214.33h-4.8ZM1087.15 192.17h4.8V214.33h-4.8ZM1092.50 184.00h4.8V213.17h-4.8ZM1097.85 178.17h4.8V213.17h-4.8ZM1103.20 177.00h4.8V214.33h-4.8ZM1108.55 173.50h4.8V198.00h-4.8ZM1113.90 159.50h4.8V182.83h-4.8ZM1119.25 157.17h4.8V182.83h-4.8ZM1124.60 164.17h4.8V182.83h-4.8ZM1129.95 164.17h4.8V182.83h-4.8ZM1135.30 164.17h4.8V182.83h-4.8Z" stroke="#35353f" stroke-width="1.9" fill="#1a1aa8"/>
<g fill="#333"><circle cx="1014.65" cy="145.50" r="1.9"/><circle cx="1014.65" cy="149.00" r="1.9"/><circle cx="1014.65" cy="152.50" r="1.9"/><circle cx="1014.65" cy="155.42" r="1.9"/><circle cx="1014.65" cy="146.00" r="1.9"/><circle cx="1020.00" cy="147.83" r="1.9"/><circle cx="1020.00" cy="150.75" r="1.9"/><circle cx="1020.00" cy="153.67" r="1.9"/><circle cx="1025.35" cy="162.42" r="1.9"/><circle cx="1030.70" cy="158.92" r="1.9"/><circle cx="1041.40" cy="146.00" r="1.9"/><circle cx="1041.40" cy="146.67" r="1.9"/><circle cx="1041.40" cy="156.00" r="1.9"/><circle cx="1046.75" cy="214.33" r="1.9"/><circle cx="1046.75" cy="216.67" r="1.9"/><circle cx="1046.75" cy="219.00" r="1.9"/><circle cx="1057.45" cy="172.33" r="1.9"/><circle cx="1057.45" cy="175.83" r="1.9"/><circle cx="1057.45" cy="179.33" r="1.9"/><circle cx="1057.45" cy="182.83" r="1.9"/><circle cx="1062.80" cy="178.17" r="1.9"/><circle cx="1062.80" cy="181.67" r="1.9"/><circle cx="1062.80" cy="185.17" r="1.9"/><circle cx="1062.80" cy="188.67" r="1.9"/><circle cx="1062.80" cy="191.00" r="1.9"/><circle cx="1068.15" cy="178.75" r="1.9"/><circle cx="1068.15" cy="181.67" r="1.9"/><circle cx="1068.15" cy="184.00" r="1.9"/><circle cx="1073.50" cy="168.83" r="1.9"/><circle cx="1073.50" cy="178.75" r="1.9"/><circle cx="1073.50" cy="182.25" r="1.9"/><circle cx="1078.85" cy="164.75" r="1.9"/><circle cx="1078.85" cy="167.67" r="1.9"/><circle cx="1078.85" cy="170.58" r="1.9"/><circle cx="1078.85" cy="173.50" r="1.9"/><circle cx="1084.20" cy="145.42" r="1.9"/><circle cx="1084.20" cy="146.08" r="1.9"/><circle cx="1084.20" cy="150.17" r="1.9"/><circle cx="1084.20" cy="158.33" r="1.9"/><circle cx="1084.20" cy="162.42" r="1.9"/><circle cx="1084.20" cy="166.50" r="1.9"/><circle cx="1084.20" cy="170.00" r="1.9"/><circle cx="1084.20" cy="173.50" r="1.9"/><circle cx="1089.55" cy="149.00" r="1.9"/><circle cx="1089.55" cy="152.50" r="1.9"/><circle cx="1089.55" cy="156.00" r="1.9"/><circle cx="1110.95" cy="122.08" r="1.9"/><circle cx="1110.95" cy="128.50" r="1.9"/><circle cx="1110.95" cy="132.00" r="1.9"/><circle cx="1110.95" cy="135.50" r="1.9"/><circle cx="1116.30" cy="113.33" r="1.9"/><circle cx="1116.30" cy="122.08" r="1.9"/><circle cx="1121.65" cy="112.17" r="1.9"/><circle cx="1127.00" cy="118.00" r="1.9"/><circle cx="1127.00" cy="124.42" r="1.9"/><circle cx="1127.00" cy="127.33" r="1.9"/><circle cx="1127.00" cy="130.25" r="1.9"/><circle cx="1127.00" cy="133.17" r="1.9"/><circle cx="1132.35" cy="125.00" r="1.9"/><circle cx="1132.35" cy="127.92" r="1.9"/><circle cx="1132.35" cy="130.83" r="1.9"/><circle cx="1132.35" cy="133.75" r="1.9"/><circle cx="1132.35" cy="136.67" r="1.9"/></g>
<path d="M1014.65 178.17C1015.54 178.36 1018.22 178.94 1020.00 179.33C1021.78 179.72 1023.57 180.31 1025.35 180.50C1027.13 180.50 1028.92 180.50 1030.70 180.50C1032.48 180.40 1034.27 180.02 1036.05 179.92C1037.83 179.92 1039.62 179.92 1041.40 179.92C1043.18 180.99 1044.97 183.32 1046.75 186.33C1048.53 189.34 1050.32 194.31 1052.10 198.00C1053.88 201.69 1055.67 206.56 1057.45 208.50C1059.23 209.67 1061.02 209.38 1062.80 209.67C1064.58 209.96 1066.37 210.25 1068.15 210.25C1069.93 210.25 1071.72 210.25 1073.50 209.67C1075.28 208.99 1077.07 207.14 1078.85 206.17C1080.63 205.20 1082.42 204.80 1084.20 203.83C1085.98 202.86 1087.77 201.30 1089.55 200.33C1091.33 199.36 1093.12 198.78 1094.90 198.00C1096.68 197.22 1098.47 196.45 1100.25 195.67C1102.03 194.89 1103.82 195.28 1105.60 193.33C1107.38 191.39 1109.17 187.69 1110.95 184.00C1112.73 180.31 1114.52 173.89 1116.30 171.17C1118.08 168.45 1119.87 167.86 1121.65 167.67C1123.43 167.67 1125.22 169.32 1127.00 170.00C1128.78 170.68 1130.57 171.07 1132.35 171.75C1134.13 172.43 1136.81 173.69 1137.70 174.08" stroke="#ee1014" stroke-width="3.8" stroke-linecap="round" fill="none" stroke-linejoin="round"/>
<rect x="1006.70" y="50.50" width="138.50" height="175.20" fill="none" stroke="#2b2b2b" stroke-width="1.6"/>
<rect x="80.60" y="240.70" width="138.50" height="175.20" fill="#fff"/>
<path d="M104.60 240.70V415.90M136.70 240.70V415.90M168.80 240.70V415.90M200.90 240.70V415.90M80.60 394.57H219.10M80.60 349.02H219.10M80.60 303.47H219.10M80.60 257.92H219.10" stroke="#ebebeb" stroke-width="1" fill="none"/>
<path d="M88.55 240.70V415.90M120.65 240.70V415.90M152.75 240.70V415.90M184.85 240.70V415.90M216.95 240.70V415.90M80.60 371.80H219.10M80.60 326.25H219.10M80.60 280.70H219.10" stroke="#ebebeb" stroke-width="2" fill="none"/>
<path d="M88.55 343.08V377.50M93.90 352.42V377.50M99.25 350.08V376.33M104.60 348.92V376.92M109.95 353.58V375.75M115.30 322.58V375.75M120.65 269.50V345.42M126.00 278.83V324.33M131.35 279.42V330.75M136.70 271.83V317.33M142.05 272.42V311.50M147.40 266.58V308.58M152.75 266.00V298.08M158.10 262.50V294.00M163.45 257.25V291.08M168.80 256.67V294.00M174.15 256.67V299.83M179.50 257.25V298.67M184.85 263.67V303.33M190.20 248.50V312.67M195.55 258.42V357.67M200.90 343.67V376.92M206.25 337.25V377.50M211.60 334.33V376.33" stroke="#333" stroke-width="2.1" fill="none"/>
<path d="M86.15 353.00h4.8V366.42h-4.8ZM91.50 362.33h4.8V368.17h-4.8ZM96.85 362.33h4.8V371.08h-4.8ZM102.20 361.17h4.8V371.08h-4.8ZM107.55 363.50h4.8V371.67h-4.8ZM112.90 336.67h4.8V368.17h-4.8ZM118.25 294.00h4.8V324.33h-4.8ZM123.60 296.33h4.8V315.00h-4.8ZM128.95 289.33h4.8V308.00h-4.8ZM134.30 288.75h4.8V301.00h-4.8ZM139.65 283.50h4.8V299.83h-4.8ZM145.00 278.25h4.8V292.83h-4.8ZM150.35 277.08h4.8V288.17h-4.8ZM155.70 275.33h4.8V285.83h-4.8ZM161.05 271.25h4.8V282.33h-4.8ZM166.40 267.75h4.8V282.33h-4.8ZM171.75 269.50h4.8V283.50h-4.8ZM177.10 271.83h4.8V284.67h-4.8ZM182.45 278.83h4.8V290.50h-4.8ZM187.80 270.08h4.8V280.00h-4.8ZM193.15 295.17h4.8V354.17h-4.8ZM198.50 350.67h4.8V365.83h-4.8ZM203.85 348.92h4.8V371.08h-4.8ZM209.20 350.08h4.8V362.33h-4.8Z" stroke="#35353f" stroke-width="1.9" fill="#1a1aa8"/>
<g fill="#333"><circle cx="93.90" cy="339.00" r="1.9"/><circle cx="93.90" cy="342.50" r="1.9"/><circle cx="99.25" cy="340.75" r="1.9"/><circle cx="99.25" cy="343.67" r="1.9"/><circle cx="99.25" cy="346.58" r="1.9"/><circle cx="104.60" cy="343.67" r="1.9"/><circle cx="109.95" cy="348.92" r="1.9"/><circle cx="136.70" cy="264.25" r="1.9"/><circle cx="136.70" cy="266.58" r="1.9"/><circle cx="152.75" cy="257.25" r="1.9"/><circle cx="158.10" cy="257.25" r="1.9"/><circle cx="174.15" cy="307.42" r="1.9"/><circle cx="184.85" cy="262.50" r="1.9"/><circle cx="184.85" cy="320.83" r="1.9"/></g>
<path d="M88.55 360.58C89.44 361.07 92.12 362.72 93.90 363.50C95.68 364.28 97.47 364.67 99.25 365.25C101.03 365.83 102.82 366.42 104.60 367.00C106.38 367.58 108.17 368.75 109.95 368.75C111.73 366.22 113.52 361.57 115.30 351.83C117.08 342.09 118.87 318.80 120.65 310.33C122.43 301.86 124.22 302.75 126.00 301.00C127.78 299.83 129.57 300.61 131.35 299.83C133.13 299.05 134.92 297.50 136.70 296.33C138.48 295.16 140.27 294.19 142.05 292.83C143.83 291.47 145.62 289.63 147.40 288.17C149.18 286.71 150.97 285.34 152.75 284.08C154.53 282.81 156.32 281.65 158.10 280.58C159.88 279.51 161.67 278.35 163.45 277.67C165.23 276.99 167.02 276.50 168.80 276.50C170.58 276.50 172.37 277.28 174.15 277.67C175.93 278.06 177.72 277.67 179.50 278.83C181.28 280.19 183.07 285.25 184.85 285.83C186.63 285.83 188.42 282.33 190.20 282.33C191.98 290.02 193.77 318.96 195.55 332.00C197.33 345.04 199.12 355.91 200.90 360.58C202.68 360.58 204.47 360.49 206.25 360.00C208.03 359.51 210.71 358.06 211.60 357.67" stroke="#ee1014" stroke-width="3.8" stroke-linecap="round" fill="none" stroke-linejoin="round"/>
<rect x="80.60" y="240.70" width="138.50" height="175.20" fill="none" stroke="#2b2b2b" stroke-width="1.6"/>
<rect x="234.95" y="240.70" width="138.50" height="175.20" fill="#fff"/>
<path d="M258.95 240.70V415.90M291.05 240.70V415.90M323.15 240.70V415.90M355.25 240.70V415.90M234.95 394.57H373.45M234.95 349.02H373.45M234.95 303.47H373.45M234.95 257.92H373.45" stroke="#ebebeb" stroke-width="1" fill="none"/>
<path d="M242.90 240.70V415.90M275.00 240.70V415.90M307.10 240.70V415.90M339.20 240.70V415.90M371.30 240.70V415.90M234.95 371.80H373.45M234.95 326.25H373.45M234.95 280.70H373.45" stroke="#ebebeb" stroke-width="2" fill="none"/>
<path d="M242.90 346.58V376.33M248.25 348.92V379.83M253.60 355.92V377.50M258.95 358.25V377.50M264.30 360.00V377.50M269.65 325.50V374.00M275.00 279.42V346.58M280.35 280.00V326.67M285.70 282.92V323.17M291.05 274.17V319.08M296.40 271.83V305.08M301.75 268.92V299.25M307.10 266.58V302.17M312.45 267.17V309.17M317.80 263.67V291.67M323.15 261.33V294.00M328.50 260.17V303.33M333.85 261.33V305.08M339.20 267.75V318.50M344.55 254.33V304.50M349.90 260.17V358.25M355.25 353.00V375.17M360.60 339.00V376.33M365.95 341.33V377.50" stroke="#333" stroke-width="2.1" fill="none"/>
<path d="M240.50 355.92h4.8V368.17h-4.8ZM245.85 358.83h4.8V369.33h-4.8ZM251.20 361.17h4.8V369.33h-4.8ZM256.55 363.50h4.8V370.50h-4.8ZM261.90 363.50h4.8V370.50h-4.8ZM267.25 330.83h4.8V367.00h-4.8ZM272.60 295.17h4.8V324.33h-4.8ZM277.95 295.17h4.8V313.83h-4.8ZM283.30 291.67h4.8V306.83h-4.8ZM288.65 288.75h4.8V301.00h-4.8ZM294.00 280.00h4.8V296.33h-4.8ZM299.35 276.50h4.8V291.67h-4.8ZM304.70 275.33h4.8V288.17h-4.8ZM310.05 273.58h4.8V288.17h-4.8ZM315.40 271.25h4.8V283.50h-4.8ZM320.75 269.50h4.8V281.17h-4.8ZM326.10 270.67h4.8V283.50h-4.8ZM331.45 269.50h4.8V285.83h-4.8ZM336.80 280.00h4.8V294.00h-4.8ZM342.15 275.33h4.8V280.00h-4.8ZM347.50 295.17h4.8V355.33h-4.8ZM352.85 355.33h4.8V362.33h-4.8ZM358.20 351.83h4.8V367.58h-4.8ZM363.55 349.50h4.8V367.00h-4.8Z" stroke="#35353f" stroke-width="1.9" fill="#1a1aa8"/>
<g fill="#333"><circle cx="275.00" cy="368.75" r="1.9"/><circle cx="275.00" cy="377.50" r="1.9"/><circle cx="291.05" cy="328.42" r="1.9"/><circle cx="296.40" cy="315.00" r="1.9"/><circle cx="296.40" cy="324.92" r="1.9"/><circle cx="296.40" cy="331.33" r="1.9"/><circle cx="301.75" cy="305.67" r="1.9"/><circle cx="301.75" cy="312.08" r="1.9"/><circle cx="301.75" cy="315.58" r="1.9"/><circle cx="301.75" cy="320.83" r="1.9"/><circle cx="307.10" cy="305.08" r="1.9"/><circle cx="307.10" cy="308.58" r="1.9"/><circle cx="307.10" cy="312.08" r="1.9"/><circle cx="312.45" cy="310.92" r="1.9"/><circle cx="317.80" cy="306.83" r="1.9"/><circle cx="317.80" cy="309.75" r="1.9"/><circle cx="323.15" cy="308.00" r="1.9"/><circle cx="328.50" cy="305.67" r="1.9"/><circle cx="328.50" cy="309.75" r="1.9"/><circle cx="339.20" cy="321.42" r="1.9"/><circle cx="344.55" cy="315.58" r="1.9"/><circle cx="355.25" cy="375.17" r="1.9"/></g>
<path d="M242.90 362.33C243.79 362.72 246.47 364.09 248.25 364.67C250.03 365.25 251.82 365.44 253.60 365.83C255.38 366.22 257.17 366.61 258.95 367.00C260.73 367.39 262.52 368.17 264.30 368.17C266.08 366.03 267.87 363.42 269.65 354.17C271.43 344.92 273.22 321.14 275.00 312.67C276.78 304.20 278.57 305.47 280.35 303.33C282.13 301.19 283.92 301.00 285.70 299.83C287.48 298.66 289.27 297.69 291.05 296.33C292.83 294.97 294.62 293.03 296.40 291.67C298.18 290.31 299.97 289.34 301.75 288.17C303.53 287.00 305.32 285.64 307.10 284.67C308.88 283.70 310.67 283.20 312.45 282.33C314.23 281.45 316.02 280.39 317.80 279.42C319.58 278.45 321.37 276.79 323.15 276.50C324.93 276.50 326.72 277.28 328.50 277.67C330.28 278.06 332.07 277.67 333.85 278.83C335.63 280.38 337.42 286.42 339.20 287.00C340.98 287.00 342.77 282.33 344.55 282.33C346.33 289.83 348.12 319.25 349.90 332.00C351.68 344.75 353.47 354.26 355.25 358.83C357.03 359.42 358.82 359.23 360.60 359.42C362.38 359.62 365.06 359.90 365.95 360.00" stroke="#ee1014" stroke-width="3.8" stroke-linecap="round" fill="none" stroke-linejoin="round"/>
<rect x="234.95" y="240.70" width="138.50" height="175.20" fill="none" stroke="#2b2b2b" stroke-width="1.6"/>
<rect x="389.30" y="240.70" width="138.50" height="175.20" fill="#fff"/>
<path d="M413.30 240.70V415.90M445.40 240.70V415.90M477.50 240.70V415.90M509.60 240.70V415.90M389.30 394.57H527.80M389.30 349.02H527.80M389.30 303.47H527.80M389.30 257.92H527.80" stroke="#ebebeb" stroke-width="1" fill="none"/>
<path d="M397.25 240.70V415.90M429.35 240.70V415.90M461.45 240.70V415.90M493.55 240.70V415.90M525.65 240.70V415.90M389.30 371.80H527.80M389.30 326.25H527.80M389.30 280.70H527.80" stroke="#ebebeb" stroke-width="2" fill="none"/>
<path d="M397.25 347.17V377.50M402.60 357.67V378.08M407.95 358.25V378.67M413.30 361.17V378.67M418.65 362.33V378.08M424.00 325.50V378.08M429.35 273.00V370.50M434.70 282.92V328.42M440.05 285.25V326.08M445.40 282.33V320.83M450.75 277.08V318.50M456.10 271.83V302.17M461.45 274.75V300.42M466.80 269.50V301.00M472.15 264.83V302.75M477.50 264.25V299.83M482.85 261.33V300.42M488.20 264.25V298.67M493.55 268.33V303.33M498.90 260.75V312.67M504.25 263.67V356.50M509.60 353.00V376.92M514.95 340.75V378.08M520.30 343.08V378.08" stroke="#333" stroke-width="2.1" fill="none"/>
<path d="M394.85 358.25h4.8V375.17h-4.8ZM400.20 364.67h4.8V376.33h-4.8ZM405.55 365.83h4.8V376.33h-4.8ZM410.90 367.00h4.8V376.33h-4.8ZM416.25 368.17h4.8V376.33h-4.8ZM421.60 344.83h4.8V371.67h-4.8ZM426.95 298.67h4.8V326.67h-4.8ZM432.30 295.17h4.8V317.33h-4.8ZM437.65 294.00h4.8V315.00h-4.8ZM443.00 291.08h4.8V305.67h-4.8ZM448.35 288.17h4.8V302.17h-4.8ZM453.70 282.92h4.8V292.83h-4.8ZM459.05 281.17h4.8V290.50h-4.8ZM464.40 278.25h4.8V289.33h-4.8ZM469.75 272.42h4.8V285.83h-4.8ZM475.10 271.25h4.8V283.50h-4.8ZM480.45 271.25h4.8V284.67h-4.8ZM485.80 275.33h4.8V288.17h-4.8ZM491.15 278.83h4.8V291.67h-4.8ZM496.50 275.33h4.8V283.50h-4.8ZM501.85 294.58h4.8V354.17h-4.8ZM507.20 355.33h4.8V367.00h-4.8ZM512.55 348.92h4.8V374.00h-4.8ZM517.90 349.50h4.8V374.00h-4.8Z" stroke="#35353f" stroke-width="1.9" fill="#1a1aa8"/>
<g fill="#333"><circle cx="413.30" cy="345.42" r="1.9"/><circle cx="413.30" cy="353.00" r="1.9"/><circle cx="429.35" cy="376.33" r="1.9"/><circle cx="477.50" cy="313.25" r="1.9"/><circle cx="482.85" cy="309.17" r="1.9"/><circle cx="482.85" cy="331.92" r="1.9"/><circle cx="488.20" cy="305.08" r="1.9"/><circle cx="488.20" cy="308.00" r="1.9"/><circle cx="488.20" cy="310.92" r="1.9"/><circle cx="488.20" cy="314.42" r="1.9"/><circle cx="488.20" cy="318.50" r="1.9"/><circle cx="498.90" cy="321.42" r="1.9"/></g>
<path d="M397.25 367.00C398.14 367.19 400.82 367.78 402.60 368.17C404.38 368.56 406.17 368.94 407.95 369.33C409.73 369.72 411.52 370.11 413.30 370.50C415.08 370.89 416.87 371.67 418.65 371.67C420.43 369.92 422.22 369.06 424.00 360.00C425.78 350.94 427.57 326.58 429.35 317.33C431.13 308.08 432.92 306.83 434.70 304.50C436.48 303.33 438.27 304.11 440.05 303.33C441.83 302.55 443.62 301.00 445.40 299.83C447.18 298.66 448.97 297.88 450.75 296.33C452.53 294.77 454.32 292.06 456.10 290.50C457.88 288.94 459.67 288.07 461.45 287.00C463.23 285.93 465.02 285.15 466.80 284.08C468.58 283.01 470.37 281.45 472.15 280.58C473.93 279.70 475.72 279.12 477.50 278.83C479.28 278.83 481.07 278.83 482.85 278.83C484.63 279.22 486.42 280.39 488.20 281.17C489.98 281.95 491.77 282.82 493.55 283.50C495.33 284.18 497.12 283.50 498.90 285.25C500.68 293.33 502.47 319.74 504.25 332.00C506.03 344.26 507.82 354.16 509.60 358.83C511.38 360.00 513.17 359.51 514.95 360.00C516.73 360.49 519.41 361.46 520.30 361.75" stroke="#ee1014" stroke-width="3.8" stroke-linecap="round" fill="none" stroke-linejoin="round"/>
<rect x="389.30" y="240.70" width="138.50" height="175.20" fill="none" stroke="#2b2b2b" stroke-width="1.6"/>
<rect x="543.65" y="240.70" width="138.50" height="175.20" fill="#fff"/>
<path d="M567.65 240.70V415.90M599.75 240.70V415.90M631.85 240.70V415.90M663.95 240.70V415.90M543.65 394.57H682.15M543.65 349.02H682.15M543.65 303.47H682.15M543.65 257.92H682.15" stroke="#ebebeb" stroke-width="1" fill="none"/>
<path d="M551.60 240.70V415.90M583.70 240.70V415.90M615.80 240.70V415.90M647.90 240.70V415.90M680.00 240.70V415.90M543.65 371.80H682.15M543.65 326.25H682.15M543.65 280.70H682.15" stroke="#ebebeb" stroke-width="2" fill="none"/>
<path d="M551.60 349.50V379.25M556.95 352.42V378.67M562.30 358.83V377.50M567.65 358.25V378.67M573.00 355.92V377.50M578.35 325.50V378.67M583.70 285.25V370.50M589.05 285.25V329.00M594.40 287.00V322.58M599.75 282.33V326.67M605.10 277.08V316.75M610.45 273.58V310.33M615.80 271.25V306.83M621.15 266.58V306.83M626.50 266.00V305.08M631.85 263.08V305.67M637.20 261.33V305.67M642.55 266.58V295.17M647.90 265.42V308.00M653.25 257.25V313.25M658.60 261.33V357.67M663.95 348.33V367.00M669.30 339.00V367.00M674.65 345.42V375.17" stroke="#333" stroke-width="2.1" fill="none"/>
<path d="M549.20 363.50h4.8V374.00h-4.8ZM554.55 363.50h4.8V372.83h-4.8ZM559.90 365.83h4.8V372.83h-4.8ZM565.25 366.42h4.8V371.67h-4.8ZM570.60 365.83h4.8V371.67h-4.8ZM575.95 349.50h4.8V369.33h-4.8ZM581.30 297.50h4.8V326.67h-4.8ZM586.65 296.33h4.8V312.67h-4.8ZM592.00 298.67h4.8V313.83h-4.8ZM597.35 296.33h4.8V309.17h-4.8ZM602.70 288.17h4.8V305.67h-4.8ZM608.05 285.83h4.8V297.50h-4.8ZM613.40 280.58h4.8V295.17h-4.8ZM618.75 278.83h4.8V295.75h-4.8ZM624.10 275.33h4.8V288.17h-4.8ZM629.45 275.33h4.8V287.00h-4.8ZM634.80 270.08h4.8V285.83h-4.8ZM640.15 274.75h4.8V291.67h-4.8ZM645.50 280.00h4.8V292.83h-4.8ZM650.85 276.50h4.8V287.00h-4.8ZM656.20 294.00h4.8V354.17h-4.8ZM661.55 351.83h4.8V361.17h-4.8ZM666.90 350.67h4.8V360.00h-4.8ZM672.25 355.33h4.8V363.50h-4.8Z" stroke="#35353f" stroke-width="1.9" fill="#1a1aa8"/>
<g fill="#333"><circle cx="551.60" cy="331.33" r="1.9"/><circle cx="551.60" cy="330.83" r="1.9"/><circle cx="551.60" cy="339.00" r="1.9"/><circle cx="551.60" cy="345.42" r="1.9"/><circle cx="556.95" cy="325.50" r="1.9"/><circle cx="556.95" cy="332.50" r="1.9"/><circle cx="556.95" cy="325.00" r="1.9"/><circle cx="556.95" cy="332.58" r="1.9"/><circle cx="556.95" cy="346.58" r="1.9"/><circle cx="562.30" cy="344.25" r="1.9"/><circle cx="562.30" cy="347.75" r="1.9"/><circle cx="647.90" cy="319.67" r="1.9"/><circle cx="647.90" cy="328.42" r="1.9"/><circle cx="653.25" cy="327.25" r="1.9"/><circle cx="663.95" cy="370.50" r="1.9"/><circle cx="669.30" cy="372.83" r="1.9"/><circle cx="669.30" cy="336.67" r="1.9"/><circle cx="674.65" cy="379.25" r="1.9"/></g>
<path d="M551.60 367.00C552.49 367.10 555.17 367.38 556.95 367.58C558.73 367.77 560.52 367.98 562.30 368.17C564.08 368.37 565.87 368.65 567.65 368.75C569.43 368.75 571.22 368.75 573.00 368.75C574.78 367.29 576.57 368.38 578.35 360.00C580.13 351.62 581.92 327.56 583.70 318.50C585.48 309.44 587.27 308.20 589.05 305.67C590.83 303.33 592.62 303.91 594.40 303.33C596.18 302.75 597.97 303.14 599.75 302.17C601.53 301.20 603.32 299.06 605.10 297.50C606.88 295.94 608.67 294.19 610.45 292.83C612.23 291.47 614.02 290.30 615.80 289.33C617.58 288.36 619.37 287.78 621.15 287.00C622.93 286.22 624.72 285.45 626.50 284.67C628.28 283.89 630.07 283.20 631.85 282.33C633.63 281.45 635.42 279.52 637.20 279.42C638.98 279.42 640.77 280.49 642.55 281.75C644.33 283.01 646.12 286.42 647.90 287.00C649.68 287.00 651.47 285.25 653.25 285.25C655.03 292.75 656.82 320.12 658.60 332.00C660.38 343.88 662.17 352.71 663.95 356.50C665.73 356.50 667.52 354.75 669.30 354.75C671.08 355.14 673.76 358.15 674.65 358.83" stroke="#ee1014" stroke-width="3.8" stroke-linecap="round" fill="none" stroke-linejoin="round"/>
<rect x="543.65" y="240.70" width="138.50" height="175.20" fill="none" stroke="#2b2b2b" stroke-width="1.6"/>
<rect x="698.00" y="240.70" width="138.50" height="175.20" fill="#fff"/>
<path d="M722.00 240.70V415.90M754.10 240.70V415.90M786.20 240.70V415.90M818.30 240.70V415.90M698.00 394.57H836.50M698.00 349.02H836.50M698.00 303.47H836.50M698.00 257.92H836.50" stroke="#ebebeb" stroke-width="1" fill="none"/>
<path d="M705.95 240.70V415.90M738.05 240.70V415.90M770.15 240.70V415.90M802.25 240.70V415.90M834.35 240.70V415.90M698.00 371.80H836.50M698.00 326.25H836.50M698.00 280.70H836.50" stroke="#ebebeb" stroke-width="2" fill="none"/>
<path d="M705.95 361.17V378.08M711.30 361.17V378.08M716.65 361.17V378.08M722.00 361.75V378.08M727.35 360.00V376.92M732.70 326.17V376.92M738.05 277.67V369.33M743.40 288.75V331.33M748.75 286.42V323.17M754.10 282.33V322.00M759.45 276.50V318.50M764.80 270.08V301.00M770.15 268.92V323.17M775.50 263.67V304.50M780.85 261.92V303.33M786.20 260.17V302.75M791.55 257.25V298.67M796.90 262.50V296.92M802.25 266.00V316.17M807.60 263.08V316.75M812.95 260.75V358.25M818.30 354.75V377.50M823.65 364.08V378.08M829.00 368.75V378.08" stroke="#333" stroke-width="2.1" fill="none"/>
<path d="M703.55 369.33h4.8V374.00h-4.8ZM708.90 368.75h4.8V374.00h-4.8ZM714.25 369.33h4.8V375.17h-4.8ZM719.60 369.33h4.8V375.17h-4.8ZM724.95 369.92h4.8V375.17h-4.8ZM730.30 360.00h4.8V375.17h-4.8ZM735.65 298.67h4.8V329.00h-4.8ZM741.00 299.83h4.8V316.17h-4.8ZM746.35 295.17h4.8V315.00h-4.8ZM751.70 294.00h4.8V308.00h-4.8ZM757.05 283.50h4.8V299.83h-4.8ZM762.40 281.17h4.8V296.33h-4.8ZM767.75 280.00h4.8V296.33h-4.8ZM773.10 275.33h4.8V291.67h-4.8ZM778.45 270.67h4.8V285.83h-4.8ZM783.80 271.25h4.8V285.83h-4.8ZM789.15 266.58h4.8V284.67h-4.8ZM794.50 268.92h4.8V285.25h-4.8ZM799.85 278.83h4.8V292.83h-4.8ZM805.20 274.17h4.8V283.50h-4.8ZM810.55 298.67h4.8V355.92h-4.8ZM815.90 370.50h4.8V374.00h-4.8ZM821.25 371.67h4.8V376.92h-4.8ZM826.60 371.67h4.8V376.33h-4.8Z" stroke="#35353f" stroke-width="1.9" fill="#1a1aa8"/>
<g fill="#333"><circle cx="705.95" cy="350.67" r="1.9"/><circle cx="711.30" cy="346.58" r="1.9"/><circle cx="711.30" cy="350.08" r="1.9"/><circle cx="711.30" cy="353.58" r="1.9"/><circle cx="716.65" cy="344.25" r="1.9"/><circle cx="716.65" cy="347.75" r="1.9"/><circle cx="716.65" cy="351.25" r="1.9"/><circle cx="727.35" cy="357.08" r="1.9"/><circle cx="732.70" cy="326.67" r="1.9"/><circle cx="732.70" cy="331.33" r="1.9"/><circle cx="732.70" cy="334.83" r="1.9"/><circle cx="738.05" cy="379.83" r="1.9"/><circle cx="759.45" cy="326.67" r="1.9"/><circle cx="759.45" cy="330.75" r="1.9"/><circle cx="764.80" cy="319.08" r="1.9"/><circle cx="764.80" cy="322.00" r="1.9"/><circle cx="764.80" cy="324.92" r="1.9"/><circle cx="764.80" cy="329.00" r="1.9"/><circle cx="802.25" cy="320.25" r="1.9"/><circle cx="807.60" cy="323.17" r="1.9"/></g>
<path d="M705.95 371.67C706.84 371.48 709.52 370.50 711.30 370.50C713.08 370.50 714.87 371.38 716.65 371.67C718.43 371.96 720.22 372.15 722.00 372.25C723.78 372.25 725.57 372.25 727.35 372.25C729.13 370.99 730.92 372.25 732.70 364.67C734.48 355.52 736.27 326.77 738.05 317.33C739.83 308.00 741.62 309.94 743.40 308.00C745.18 306.06 746.97 306.64 748.75 305.67C750.53 304.70 752.32 303.53 754.10 302.17C755.88 300.81 757.67 299.25 759.45 297.50C761.23 295.75 763.02 293.03 764.80 291.67C766.58 290.31 768.37 290.30 770.15 289.33C771.93 288.36 773.72 287.09 775.50 285.83C777.28 284.57 779.07 282.72 780.85 281.75C782.63 280.78 784.42 280.58 786.20 280.00C787.98 279.42 789.77 278.35 791.55 278.25C793.33 278.25 795.12 278.55 796.90 279.42C798.68 280.30 800.47 282.62 802.25 283.50C804.03 284.38 805.82 283.50 807.60 284.67C809.38 292.75 811.17 317.89 812.95 332.00C814.73 346.11 816.52 362.13 818.30 369.33C820.08 375.17 821.87 374.30 823.65 375.17C825.43 375.17 828.11 374.68 829.00 374.58" stroke="#ee1014" stroke-width="3.8" stroke-linecap="round" fill="none" stroke-linejoin="round"/>
<rect x="698.00" y="240.70" width="138.50" height="175.20" fill="none" stroke="#2b2b2b" stroke-width="1.6"/>
<rect x="852.35" y="240.70" width="138.50" height="175.20" fill="#fff"/>
<path d="M876.35 240.70V415.90M908.45 240.70V415.90M940.55 240.70V415.90M972.65 240.70V415.90M852.35 394.57H990.85M852.35 349.02H990.85M852.35 303.47H990.85M852.35 257.92H990.85" stroke="#ebebeb" stroke-width="1" fill="none"/>
<path d="M860.30 240.70V415.90M892.40 240.70V415.90M924.50 240.70V415.90M956.60 240.70V415.90M988.70 240.70V415.90M852.35 371.80H990.85M852.35 326.25H990.85M852.35 280.70H990.85" stroke="#ebebeb" stroke-width="2" fill="none"/>
<path d="M860.30 344.83V380.42M865.65 361.75V378.67M871.00 361.17V378.67M876.35 361.75V378.67M881.70 358.25V378.67M887.05 362.33V378.08M892.40 353.58V392.67M897.75 352.42V382.75M903.10 352.42V369.33M908.45 351.25V368.75M913.80 350.08V371.67M919.15 346.00V365.83M924.50 347.17V364.67M929.85 339.58V362.33M935.20 307.42V363.50M940.55 320.25V367.00M945.90 320.83V368.75M951.25 301.00V389.17M956.60 308.58V388.00M961.95 322.58V393.83M967.30 336.67V377.50M972.65 325.50V379.25M978.00 332.58V378.67M983.35 336.08V380.42" stroke="#333" stroke-width="2.1" fill="none"/>
<path d="M857.90 359.42h4.8V372.83h-4.8ZM863.25 365.83h4.8V375.17h-4.8ZM868.60 367.00h4.8V375.17h-4.8ZM873.95 367.00h4.8V375.17h-4.8ZM879.30 367.00h4.8V374.58h-4.8ZM884.65 367.00h4.8V375.17h-4.8ZM890.00 367.00h4.8V383.33h-4.8ZM895.35 357.67h4.8V372.83h-4.8ZM900.70 358.83h4.8V368.17h-4.8ZM906.05 357.67h4.8V364.67h-4.8ZM911.40 354.17h4.8V362.33h-4.8ZM916.75 351.83h4.8V358.83h-4.8ZM922.10 348.33h4.8V357.67h-4.8ZM927.45 346.00h4.8V355.33h-4.8ZM932.80 327.25h4.8V353.00h-4.8ZM938.15 339.00h4.8V353.00h-4.8ZM943.50 337.83h4.8V353.00h-4.8ZM948.85 323.17h4.8V351.83h-4.8ZM954.20 334.33h4.8V364.67h-4.8ZM959.55 353.00h4.8V377.50h-4.8ZM964.90 353.00h4.8V363.50h-4.8ZM970.25 340.17h4.8V365.83h-4.8ZM975.60 353.00h4.8V362.33h-4.8ZM980.95 353.00h4.8V368.17h-4.8Z" stroke="#35353f" stroke-width="1.9" fill="#1a1aa8"/>
<g fill="#333"><circle cx="908.45" cy="372.83" r="1.9"/><circle cx="924.50" cy="333.75" r="1.9"/><circle cx="924.50" cy="337.25" r="1.9"/><circle cx="929.85" cy="366.42" r="1.9"/><circle cx="929.85" cy="302.17" r="1.9"/><circle cx="929.85" cy="309.17" r="1.9"/><circle cx="929.85" cy="312.67" r="1.9"/><circle cx="929.85" cy="316.17" r="1.9"/><circle cx="929.85" cy="322.00" r="1.9"/><circle cx="929.85" cy="324.92" r="1.9"/><circle cx="940.55" cy="315.00" r="1.9"/><circle cx="940.55" cy="385.67" r="1.9"/><circle cx="945.90" cy="303.92" r="1.9"/><circle cx="945.90" cy="311.50" r="1.9"/><circle cx="945.90" cy="314.42" r="1.9"/><circle cx="967.30" cy="331.33" r="1.9"/><circle cx="967.30" cy="331.42" r="1.9"/><circle cx="967.30" cy="334.33" r="1.9"/></g>
<path d="M860.30 366.42C861.19 367.00 863.87 369.14 865.65 369.92C867.43 370.70 869.22 370.89 871.00 371.08C872.78 371.08 874.57 371.08 876.35 371.08C878.13 370.89 879.92 370.11 881.70 369.92C883.48 369.92 885.27 369.92 887.05 369.92C888.83 370.41 890.62 372.83 892.40 372.83C894.18 371.95 895.97 366.52 897.75 364.67C899.53 362.82 901.32 362.53 903.10 361.75C904.88 360.97 906.67 360.58 908.45 360.00C910.23 359.42 912.02 358.93 913.80 358.25C915.58 357.57 917.37 356.89 919.15 355.92C920.93 354.95 922.72 354.07 924.50 352.42C926.28 350.77 928.07 347.65 929.85 346.00C931.63 344.35 933.42 342.79 935.20 342.50C936.98 342.50 938.77 343.86 940.55 344.25C942.33 344.64 944.12 344.83 945.90 344.83C947.68 344.15 949.47 340.17 951.25 340.17C953.03 341.34 954.82 347.94 956.60 351.83C958.38 355.72 960.17 362.33 961.95 363.50C963.73 363.50 965.52 360.38 967.30 358.83C969.08 357.27 970.87 354.46 972.65 354.17C974.43 354.17 976.22 356.11 978.00 357.08C979.78 358.05 982.46 359.51 983.35 360.00" stroke="#ee1014" stroke-width="3.8" stroke-linecap="round" fill="none" stroke-linejoin="round"/>
<rect x="852.35" y="240.70" width="138.50" height="175.20" fill="none" stroke="#2b2b2b" stroke-width="1.6"/>
<rect x="1006.70" y="240.70" width="138.50" height="175.20" fill="#fff"/>
<path d="M1030.70 240.70V415.90M1062.80 240.70V415.90M1094.90 240.70V415.90M1127.00 240.70V415.90M1006.70 394.57H1145.20M1006.70 349.02H1145.20M1006.70 303.47H1145.20M1006.70 257.92H1145.20" stroke="#ebebeb" stroke-width="1" fill="none"/>
<path d="M1014.65 240.70V415.90M1046.75 240.70V415.90M1078.85 240.70V415.90M1110.95 240.70V415.90M1143.05 240.70V415.90M1006.70 371.80H1145.20M1006.70 326.25H1145.20M1006.70 280.70H1145.20" stroke="#ebebeb" stroke-width="2" fill="none"/>
<path d="M1014.65 336.67V379.25M1020.00 360.00V381.00M1025.35 352.42V381.00M1030.70 355.92V378.67M1036.05 358.83V379.25M1041.40 356.50V379.25M1046.75 354.17V405.50M1052.10 388.00V406.08M1057.45 388.00V403.17M1062.80 384.50V402.00M1068.15 377.50V399.67M1073.50 377.50V399.67M1078.85 356.50V405.50M1084.20 336.08V402.00M1089.55 343.67V402.00M1094.90 330.83V402.00M1100.25 340.17V384.50M1105.60 314.42V394.42M1110.95 312.67V390.33M1116.30 303.92V389.17M1121.65 302.75V368.17M1127.00 308.58V370.50M1132.35 316.17V369.33M1137.70 334.33V374.00" stroke="#333" stroke-width="2.1" fill="none"/>
<path d="M1012.25 351.83h4.8V367.00h-4.8ZM1017.60 363.50h4.8V368.17h-4.8ZM1022.95 362.92h4.8V369.33h-4.8ZM1028.30 362.33h4.8V369.33h-4.8ZM1033.65 363.50h4.8V370.50h-4.8ZM1039.00 363.50h4.8V369.33h-4.8ZM1044.35 365.25h4.8V392.67h-4.8ZM1049.70 390.33h4.8V399.67h-4.8ZM1055.05 390.33h4.8V397.33h-4.8ZM1060.40 388.00h4.8V396.17h-4.8ZM1065.75 385.67h4.8V392.67h-4.8ZM1071.10 383.33h4.8V391.50h-4.8ZM1076.45 363.50h4.8V384.50h-4.8ZM1081.80 362.33h4.8V384.50h-4.8ZM1087.15 363.50h4.8V383.33h-4.8ZM1092.50 360.00h4.8V378.67h-4.8ZM1097.85 357.67h4.8V371.67h-4.8ZM1103.20 349.50h4.8V378.67h-4.8ZM1108.55 346.00h4.8V378.67h-4.8ZM1113.90 325.50h4.8V363.50h-4.8ZM1119.25 326.67h4.8V351.83h-4.8ZM1124.60 325.50h4.8V353.00h-4.8ZM1129.95 335.50h4.8V356.50h-4.8ZM1135.30 346.00h4.8V362.33h-4.8Z" stroke="#35353f" stroke-width="1.9" fill="#1a1aa8"/>
<g fill="#333"><circle cx="1020.00" cy="338.42" r="1.9"/><circle cx="1020.00" cy="341.33" r="1.9"/><circle cx="1020.00" cy="343.67" r="1.9"/><circle cx="1030.70" cy="349.50" r="1.9"/><circle cx="1036.05" cy="351.83" r="1.9"/><circle cx="1041.40" cy="336.67" r="1.9"/><circle cx="1041.40" cy="346.00" r="1.9"/><circle cx="1057.45" cy="406.67" r="1.9"/><circle cx="1062.80" cy="368.17" r="1.9"/><circle cx="1062.80" cy="371.08" r="1.9"/><circle cx="1062.80" cy="374.00" r="1.9"/><circle cx="1062.80" cy="378.08" r="1.9"/><circle cx="1062.80" cy="407.25" r="1.9"/><circle cx="1068.15" cy="369.33" r="1.9"/><circle cx="1068.15" cy="371.67" r="1.9"/><circle cx="1068.15" cy="374.00" r="1.9"/><circle cx="1068.15" cy="406.67" r="1.9"/><circle cx="1073.50" cy="359.42" r="1.9"/><circle cx="1073.50" cy="369.33" r="1.9"/><circle cx="1073.50" cy="372.25" r="1.9"/><circle cx="1073.50" cy="375.17" r="1.9"/><circle cx="1100.25" cy="335.50" r="1.9"/></g>
<path d="M1014.65 359.42C1015.54 359.91 1018.22 361.36 1020.00 362.33C1021.78 363.30 1023.57 364.67 1025.35 365.25C1027.13 365.83 1028.92 365.73 1030.70 365.83C1032.48 365.83 1034.27 365.83 1036.05 365.83C1037.83 365.93 1039.62 365.83 1041.40 366.42C1043.18 368.17 1044.97 371.57 1046.75 376.33C1048.53 381.09 1050.32 392.08 1052.10 395.00C1053.88 395.00 1055.67 394.41 1057.45 393.83C1059.23 393.25 1061.02 392.38 1062.80 391.50C1064.58 390.62 1066.37 389.36 1068.15 388.58C1069.93 387.80 1071.72 388.58 1073.50 386.83C1075.28 384.79 1077.07 378.66 1078.85 376.33C1080.63 374.00 1082.42 373.61 1084.20 372.83C1085.98 372.05 1087.77 372.45 1089.55 371.67C1091.33 370.89 1093.12 369.53 1094.90 368.17C1096.68 366.81 1098.47 364.47 1100.25 363.50C1102.03 362.53 1103.82 363.11 1105.60 362.33C1107.38 361.55 1109.17 361.16 1110.95 358.83C1112.73 356.50 1114.52 351.93 1116.30 348.33C1118.08 344.73 1119.87 338.42 1121.65 337.25C1123.43 337.25 1125.22 339.87 1127.00 341.33C1128.78 342.79 1130.57 343.86 1132.35 346.00C1134.13 348.14 1136.81 352.81 1137.70 354.17" stroke="#ee1014" stroke-width="3.8" stroke-linecap="round" fill="none" stroke-linejoin="round"/>
<rect x="1006.70" y="240.70" width="138.50" height="175.20" fill="none" stroke="#2b2b2b" stroke-width="1.6"/>
<rect x="80.60" y="430.90" width="138.50" height="175.20" fill="#fff"/>
<path d="M104.60 430.90V606.10M136.70 430.90V606.10M168.80 430.90V606.10M200.90 430.90V606.10M80.60 584.77H219.10M80.60 539.23H219.10M80.60 493.68H219.10M80.60 448.12H219.10" stroke="#ebebeb" stroke-width="1" fill="none"/>
<path d="M88.55 430.90V606.10M120.65 430.90V606.10M152.75 430.90V606.10M184.85 430.90V606.10M216.95 430.90V606.10M80.60 562.00H219.10M80.60 516.45H219.10M80.60 470.90H219.10" stroke="#ebebeb" stroke-width="2" fill="none"/>
<path d="M88.55 548.83V566.92M93.90 555.83V564.00M99.25 554.67V564.00M104.60 554.67V564.00M109.95 555.25V564.00M115.30 552.92V564.00M120.65 520.83V566.33M126.00 509.67V547.67M131.35 509.67V547.67M136.70 537.17V547.67M142.05 531.92V544.75M147.40 529.58V546.50M152.75 523.75V546.50M158.10 523.75V547.08M163.45 513.75V546.50M168.80 502.67V552.33M174.15 505.00V548.25M179.50 492.17V546.50M184.85 502.67V519.67M190.20 504.42V533.67M195.55 510.83V546.50M200.90 526.08V565.17M206.25 520.83V566.33M211.60 517.92V568.67" stroke="#333" stroke-width="2.1" fill="none"/>
<path d="M86.15 554.67h4.8V561.67h-4.8ZM91.50 557.00h4.8V561.67h-4.8ZM96.85 557.00h4.8V561.67h-4.8ZM102.20 557.00h4.8V561.67h-4.8ZM107.55 557.00h4.8V561.67h-4.8ZM112.90 557.00h4.8V561.67h-4.8ZM118.25 530.17h4.8V558.17h-4.8ZM123.60 513.17h4.8V529.00h-4.8ZM128.95 514.33h4.8V544.17h-4.8ZM134.30 538.33h4.8V543.00h-4.8ZM139.65 537.17h4.8V543.00h-4.8ZM145.00 537.17h4.8V542.42h-4.8ZM150.35 534.83h4.8V543.00h-4.8ZM155.70 534.83h4.8V543.00h-4.8ZM161.05 532.50h4.8V543.00h-4.8ZM166.40 529.00h4.8V543.00h-4.8ZM171.75 525.50h4.8V541.83h-4.8ZM177.10 509.67h4.8V540.67h-4.8ZM182.45 505.00h4.8V518.50h-4.8ZM187.80 508.50h4.8V526.67h-4.8ZM193.15 516.67h4.8V537.17h-4.8ZM198.50 536.00h4.8V548.83h-4.8ZM203.85 536.00h4.8V559.33h-4.8ZM209.20 536.00h4.8V561.67h-4.8Z" stroke="#35353f" stroke-width="1.9" fill="#1a1aa8"/>
<g fill="#333"><circle cx="88.55" cy="526.00" r="1.9"/><circle cx="88.55" cy="526.08" r="1.9"/><circle cx="88.55" cy="533.08" r="1.9"/><circle cx="88.55" cy="536.58" r="1.9"/><circle cx="88.55" cy="540.08" r="1.9"/><circle cx="88.55" cy="543.00" r="1.9"/><circle cx="93.90" cy="540.67" r="1.9"/><circle cx="93.90" cy="544.17" r="1.9"/><circle cx="93.90" cy="565.75" r="1.9"/><circle cx="93.90" cy="568.67" r="1.9"/><circle cx="99.25" cy="540.67" r="1.9"/><circle cx="99.25" cy="544.17" r="1.9"/><circle cx="99.25" cy="565.75" r="1.9"/><circle cx="99.25" cy="568.67" r="1.9"/><circle cx="104.60" cy="552.92" r="1.9"/><circle cx="104.60" cy="565.75" r="1.9"/><circle cx="104.60" cy="568.67" r="1.9"/><circle cx="109.95" cy="565.75" r="1.9"/><circle cx="109.95" cy="568.67" r="1.9"/><circle cx="115.30" cy="565.75" r="1.9"/><circle cx="115.30" cy="568.67" r="1.9"/><circle cx="168.80" cy="498.58" r="1.9"/><circle cx="174.15" cy="496.83" r="1.9"/><circle cx="174.15" cy="499.17" r="1.9"/><circle cx="184.85" cy="493.92" r="1.9"/><circle cx="184.85" cy="496.83" r="1.9"/><circle cx="184.85" cy="521.42" r="1.9"/><circle cx="190.20" cy="522.58" r="1.9"/></g>
<path d="M88.55 557.00C89.44 557.29 92.12 558.36 93.90 558.75C95.68 559.14 97.47 559.13 99.25 559.33C101.03 559.53 102.82 559.72 104.60 559.92C106.38 560.12 108.17 560.50 109.95 560.50C111.73 560.40 113.52 560.50 115.30 559.33C117.08 556.61 118.87 551.36 120.65 544.17C122.43 536.98 124.22 518.12 126.00 516.17C127.78 516.17 129.57 528.42 131.35 532.50C133.13 536.58 134.92 539.60 136.70 540.67C138.48 540.67 140.27 539.21 142.05 538.92C143.83 538.92 145.62 538.92 147.40 538.92C149.18 539.02 150.97 539.40 152.75 539.50C154.53 539.50 156.32 539.50 158.10 539.50C159.88 539.21 161.67 538.33 163.45 537.75C165.23 537.17 167.02 536.68 168.80 536.00C170.58 535.32 172.37 536.00 174.15 533.67C175.93 531.34 177.72 525.31 179.50 522.00C181.28 518.69 183.07 513.83 184.85 513.83C186.63 513.83 188.42 518.89 190.20 522.00C191.98 525.11 193.77 528.90 195.55 532.50C197.33 536.10 199.12 542.03 200.90 543.58C202.68 543.58 204.47 541.83 206.25 541.83C208.03 542.32 210.71 545.72 211.60 546.50" stroke="#ee1014" stroke-width="3.8" stroke-linecap="round" fill="none" stroke-linejoin="round"/>
<rect x="80.60" y="430.90" width="138.50" height="175.20" fill="none" stroke="#2b2b2b" stroke-width="1.6"/>
<rect x="234.95" y="430.90" width="138.50" height="175.20" fill="#fff"/>
<path d="M258.95 430.90V606.10M291.05 430.90V606.10M323.15 430.90V606.10M355.25 430.90V606.10M234.95 584.77H373.45M234.95 539.23H373.45M234.95 493.68H373.45M234.95 448.12H373.45" stroke="#ebebeb" stroke-width="1" fill="none"/>
<path d="M242.90 430.90V606.10M275.00 430.90V606.10M307.10 430.90V606.10M339.20 430.90V606.10M371.30 430.90V606.10M234.95 562.00H373.45M234.95 516.45H373.45M234.95 470.90H373.45" stroke="#ebebeb" stroke-width="2" fill="none"/>
<path d="M242.90 530.17V564.58M248.25 550.00V564.58M253.60 550.00V562.83M258.95 552.33V562.83M264.30 551.75V565.17M269.65 550.00V565.17M275.00 519.67V565.17M280.35 512.00V534.83M285.70 508.50V548.83M291.05 534.25V547.67M296.40 534.25V546.50M301.75 530.75V544.75M307.10 531.33V544.75M312.45 530.17V545.92M317.80 531.33V547.08M323.15 526.67V547.08M328.50 529.00V546.50M333.85 498.00V548.25M339.20 496.25V522.00M344.55 499.17V530.17M349.90 508.50V545.33M355.25 533.08V561.67M360.60 533.08V565.17M365.95 535.42V566.33" stroke="#333" stroke-width="2.1" fill="none"/>
<path d="M240.50 543.00h4.8V557.00h-4.8ZM245.85 551.17h4.8V559.33h-4.8ZM251.20 553.50h4.8V560.50h-4.8ZM256.55 554.67h4.8V560.50h-4.8ZM261.90 555.25h4.8V560.50h-4.8ZM267.25 554.67h4.8V559.33h-4.8ZM272.60 532.50h4.8V553.50h-4.8ZM277.95 515.50h4.8V529.00h-4.8ZM283.30 515.50h4.8V545.33h-4.8ZM288.65 538.33h4.8V544.17h-4.8ZM294.00 538.33h4.8V543.58h-4.8ZM299.35 537.17h4.8V543.00h-4.8ZM304.70 537.17h4.8V543.00h-4.8ZM310.05 537.17h4.8V543.00h-4.8ZM315.40 537.17h4.8V543.58h-4.8ZM320.75 536.00h4.8V543.00h-4.8ZM326.10 534.83h4.8V541.83h-4.8ZM331.45 512.58h4.8V543.00h-4.8ZM336.80 503.83h4.8V517.33h-4.8ZM342.15 510.83h4.8V526.67h-4.8ZM347.50 517.83h4.8V539.50h-4.8ZM352.85 539.50h4.8V550.00h-4.8ZM358.20 537.75h4.8V555.83h-4.8ZM363.55 540.08h4.8V553.50h-4.8Z" stroke="#35353f" stroke-width="1.9" fill="#1a1aa8"/>
<g fill="#333"><circle cx="248.25" cy="537.17" r="1.9"/><circle cx="248.25" cy="540.67" r="1.9"/><circle cx="248.25" cy="544.17" r="1.9"/><circle cx="248.25" cy="547.67" r="1.9"/><circle cx="253.60" cy="537.75" r="1.9"/><circle cx="253.60" cy="541.25" r="1.9"/><circle cx="253.60" cy="544.75" r="1.9"/><circle cx="253.60" cy="564.58" r="1.9"/><circle cx="253.60" cy="566.92" r="1.9"/><circle cx="258.95" cy="544.17" r="1.9"/><circle cx="258.95" cy="565.75" r="1.9"/><circle cx="296.40" cy="501.50" r="1.9"/><circle cx="301.75" cy="520.25" r="1.9"/><circle cx="312.45" cy="529.00" r="1.9"/><circle cx="317.80" cy="502.67" r="1.9"/><circle cx="317.80" cy="505.58" r="1.9"/><circle cx="317.80" cy="511.42" r="1.9"/><circle cx="317.80" cy="524.83" r="1.9"/><circle cx="317.80" cy="525.50" r="1.9"/><circle cx="323.15" cy="496.83" r="1.9"/><circle cx="323.15" cy="500.33" r="1.9"/><circle cx="323.15" cy="510.25" r="1.9"/><circle cx="323.15" cy="513.75" r="1.9"/><circle cx="323.15" cy="517.25" r="1.9"/><circle cx="328.50" cy="499.17" r="1.9"/><circle cx="328.50" cy="503.25" r="1.9"/><circle cx="328.50" cy="510.83" r="1.9"/><circle cx="328.50" cy="514.92" r="1.9"/><circle cx="328.50" cy="519.00" r="1.9"/><circle cx="328.50" cy="522.50" r="1.9"/><circle cx="339.20" cy="535.42" r="1.9"/><circle cx="355.25" cy="564.58" r="1.9"/></g>
<path d="M242.90 552.33C243.79 552.62 246.47 553.50 248.25 554.08C250.03 554.66 251.82 555.34 253.60 555.83C255.38 556.32 257.17 556.81 258.95 557.00C260.73 557.00 262.52 557.00 264.30 557.00C266.08 557.00 267.87 557.00 269.65 557.00C271.43 555.06 273.22 551.75 275.00 545.33C276.78 538.91 278.57 520.83 280.35 518.50C282.13 518.50 283.92 527.44 285.70 531.33C287.48 535.22 289.27 540.37 291.05 541.83C292.83 541.83 294.62 540.37 296.40 540.08C298.18 540.08 299.97 540.08 301.75 540.08C303.53 540.18 305.32 540.57 307.10 540.67C308.88 540.67 310.67 540.67 312.45 540.67C314.23 540.57 316.02 540.57 317.80 540.08C319.58 539.59 321.37 538.33 323.15 537.75C324.93 537.17 326.72 537.75 328.50 536.58C330.28 534.73 332.07 530.65 333.85 526.67C335.63 522.68 337.42 513.84 339.20 512.67C340.98 512.67 342.77 516.56 344.55 519.67C346.33 522.78 348.12 527.15 349.90 531.33C351.68 535.51 353.47 542.12 355.25 544.75C357.03 547.08 358.82 546.40 360.60 547.08C362.38 547.76 365.06 548.54 365.95 548.83" stroke="#ee1014" stroke-width="3.8" stroke-linecap="round" fill="none" stroke-linejoin="round"/>
<rect x="234.95" y="430.90" width="138.50" height="175.20" fill="none" stroke="#2b2b2b" stroke-width="1.6"/>
<rect x="389.30" y="430.90" width="138.50" height="175.20" fill="#fff"/>
<path d="M413.30 430.90V606.10M445.40 430.90V606.10M477.50 430.90V606.10M509.60 430.90V606.10M389.30 584.77H527.80M389.30 539.23H527.80M389.30 493.68H527.80M389.30 448.12H527.80" stroke="#ebebeb" stroke-width="1" fill="none"/>
<path d="M397.25 430.90V606.10M429.35 430.90V606.10M461.45 430.90V606.10M493.55 430.90V606.10M525.65 430.90V606.10M389.30 562.00H527.80M389.30 516.45H527.80M389.30 470.90H527.80" stroke="#ebebeb" stroke-width="2" fill="none"/>
<path d="M397.25 532.50V566.92M402.60 541.83V566.92M407.95 553.50V566.92M413.30 555.83V564.00M418.65 556.42V564.00M424.00 553.50V564.00M429.35 520.83V566.33M434.70 511.42V538.33M440.05 512.00V549.42M445.40 536.00V548.83M450.75 535.42V546.50M456.10 530.17V544.75M461.45 530.17V546.50M466.80 527.83V547.08M472.15 523.75V546.50M477.50 524.33V547.08M482.85 525.50V546.50M488.20 505.00V546.50M493.55 499.75V520.83M498.90 505.00V529.00M504.25 509.67V545.33M509.60 532.50V561.67M514.95 533.08V565.75M520.30 532.50V566.33" stroke="#333" stroke-width="2.1" fill="none"/>
<path d="M394.85 543.58h4.8V560.50h-4.8ZM400.20 552.33h4.8V561.67h-4.8ZM405.55 557.00h4.8V561.67h-4.8ZM410.90 558.17h4.8V561.67h-4.8ZM416.25 558.17h4.8V561.67h-4.8ZM421.60 558.17h4.8V561.67h-4.8ZM426.95 532.50h4.8V559.33h-4.8ZM432.30 515.50h4.8V526.67h-4.8ZM437.65 515.50h4.8V545.33h-4.8ZM443.00 539.50h4.8V545.92h-4.8ZM448.35 538.33h4.8V543.00h-4.8ZM453.70 537.75h4.8V543.00h-4.8ZM459.05 537.75h4.8V543.00h-4.8ZM464.40 537.17h4.8V544.17h-4.8ZM469.75 536.00h4.8V544.17h-4.8ZM475.10 534.83h4.8V543.00h-4.8ZM480.45 533.67h4.8V541.83h-4.8ZM485.80 515.50h4.8V541.83h-4.8ZM491.15 507.33h4.8V519.67h-4.8ZM496.50 512.00h4.8V524.33h-4.8ZM501.85 516.67h4.8V538.33h-4.8ZM507.20 536.00h4.8V550.00h-4.8ZM512.55 536.00h4.8V557.00h-4.8ZM517.90 536.00h4.8V558.17h-4.8Z" stroke="#35353f" stroke-width="1.9" fill="#1a1aa8"/>
<g fill="#333"><circle cx="402.60" cy="537.75" r="1.9"/><circle cx="407.95" cy="545.33" r="1.9"/><circle cx="413.30" cy="542.42" r="1.9"/><circle cx="413.30" cy="566.33" r="1.9"/><circle cx="418.65" cy="566.33" r="1.9"/><circle cx="424.00" cy="550.00" r="1.9"/><circle cx="424.00" cy="568.08" r="1.9"/><circle cx="450.75" cy="530.17" r="1.9"/><circle cx="461.45" cy="526.00" r="1.9"/><circle cx="466.80" cy="512.58" r="1.9"/><circle cx="466.80" cy="526.08" r="1.9"/><circle cx="472.15" cy="523.08" r="1.9"/><circle cx="472.15" cy="522.58" r="1.9"/><circle cx="477.50" cy="501.50" r="1.9"/><circle cx="477.50" cy="505.00" r="1.9"/><circle cx="477.50" cy="508.50" r="1.9"/><circle cx="477.50" cy="511.42" r="1.9"/><circle cx="477.50" cy="520.17" r="1.9"/><circle cx="477.50" cy="524.25" r="1.9"/><circle cx="482.85" cy="505.58" r="1.9"/><circle cx="482.85" cy="509.67" r="1.9"/><circle cx="482.85" cy="513.17" r="1.9"/><circle cx="482.85" cy="517.83" r="1.9"/><circle cx="482.85" cy="517.33" r="1.9"/><circle cx="493.55" cy="494.50" r="1.9"/><circle cx="493.55" cy="523.17" r="1.9"/><circle cx="493.55" cy="537.75" r="1.9"/><circle cx="509.60" cy="566.33" r="1.9"/></g>
<path d="M397.25 554.08C398.14 554.37 400.82 555.15 402.60 555.83C404.38 556.51 406.17 557.59 407.95 558.17C409.73 558.75 411.52 559.04 413.30 559.33C415.08 559.62 416.87 559.72 418.65 559.92C420.43 560.12 422.22 560.50 424.00 560.50C425.78 557.68 427.57 550.19 429.35 543.00C431.13 535.81 432.92 519.47 434.70 517.33C436.48 517.33 438.27 525.99 440.05 530.17C441.83 534.35 443.62 540.77 445.40 542.42C447.18 542.42 448.97 540.57 450.75 540.08C452.53 539.59 454.32 539.50 456.10 539.50C457.88 539.50 459.67 539.79 461.45 540.08C463.23 540.37 465.02 541.25 466.80 541.25C468.58 541.25 470.37 540.57 472.15 540.08C473.93 539.59 475.72 538.82 477.50 538.33C479.28 537.85 481.07 538.33 482.85 537.17C484.63 535.42 486.42 531.72 488.20 527.83C489.98 523.94 491.77 515.38 493.55 513.83C495.33 513.83 497.12 515.78 498.90 518.50C500.68 521.22 502.47 525.99 504.25 530.17C506.03 534.35 507.82 540.96 509.60 543.58C511.38 545.92 513.17 545.34 514.95 545.92C516.73 546.50 519.41 546.89 520.30 547.08" stroke="#ee1014" stroke-width="3.8" stroke-linecap="round" fill="none" stroke-linejoin="round"/>
<rect x="389.30" y="430.90" width="138.50" height="175.20" fill="none" stroke="#2b2b2b" stroke-width="1.6"/>
<rect x="543.65" y="430.90" width="138.50" height="175.20" fill="#fff"/>
<path d="M567.65 430.90V606.10M599.75 430.90V606.10M631.85 430.90V606.10M663.95 430.90V606.10M543.65 584.77H682.15M543.65 539.23H682.15M543.65 493.68H682.15M543.65 448.12H682.15" stroke="#ebebeb" stroke-width="1" fill="none"/>
<path d="M551.60 430.90V606.10M583.70 430.90V606.10M615.80 430.90V606.10M647.90 430.90V606.10M680.00 430.90V606.10M543.65 562.00H682.15M543.65 516.45H682.15M543.65 470.90H682.15" stroke="#ebebeb" stroke-width="2" fill="none"/>
<path d="M551.60 534.83V565.17M556.95 532.50V565.17M562.30 551.17V564.00M567.65 552.33V562.83M573.00 552.33V564.00M578.35 551.75V564.00M583.70 522.58V564.00M589.05 512.00V534.83M594.40 509.67V548.83M599.75 537.17V547.67M605.10 533.67V545.33M610.45 534.83V545.92M615.80 529.00V544.17M621.15 530.17V547.67M626.50 527.83V548.83M631.85 522.00V547.67M637.20 515.00V548.25M642.55 498.00V545.92M647.90 498.00V522.00M653.25 500.92V527.83M658.60 505.00V546.50M663.95 532.50V554.08M669.30 531.92V555.83M674.65 533.67V563.42" stroke="#333" stroke-width="2.1" fill="none"/>
<path d="M549.20 544.75h4.8V555.83h-4.8ZM554.55 546.50h4.8V558.17h-4.8ZM559.90 553.50h4.8V559.33h-4.8ZM565.25 554.67h4.8V560.50h-4.8ZM570.60 554.67h4.8V560.50h-4.8ZM575.95 554.67h4.8V559.92h-4.8ZM581.30 531.33h4.8V554.67h-4.8ZM586.65 516.67h4.8V526.67h-4.8ZM592.00 516.67h4.8V545.33h-4.8ZM597.35 539.50h4.8V545.33h-4.8ZM602.70 538.33h4.8V543.58h-4.8ZM608.05 537.75h4.8V543.00h-4.8ZM613.40 536.58h4.8V542.42h-4.8ZM618.75 537.17h4.8V543.00h-4.8ZM624.10 536.00h4.8V544.17h-4.8ZM629.45 533.67h4.8V543.00h-4.8ZM634.80 532.50h4.8V541.83h-4.8ZM640.15 512.00h4.8V540.67h-4.8ZM645.50 503.83h4.8V518.50h-4.8ZM650.85 506.17h4.8V522.00h-4.8ZM656.20 517.83h4.8V538.33h-4.8ZM661.55 537.17h4.8V547.67h-4.8ZM666.90 536.58h4.8V547.67h-4.8ZM672.25 541.25h4.8V553.50h-4.8Z" stroke="#35353f" stroke-width="1.9" fill="#1a1aa8"/>
<g fill="#333"><circle cx="562.30" cy="540.67" r="1.9"/><circle cx="562.30" cy="543.58" r="1.9"/><circle cx="562.30" cy="545.92" r="1.9"/><circle cx="567.65" cy="544.17" r="1.9"/><circle cx="567.65" cy="547.08" r="1.9"/><circle cx="567.65" cy="565.17" r="1.9"/><circle cx="578.35" cy="547.67" r="1.9"/><circle cx="589.05" cy="509.08" r="1.9"/><circle cx="610.45" cy="530.17" r="1.9"/><circle cx="610.45" cy="532.50" r="1.9"/><circle cx="615.80" cy="527.25" r="1.9"/><circle cx="631.85" cy="521.92" r="1.9"/><circle cx="637.20" cy="510.25" r="1.9"/><circle cx="637.20" cy="513.75" r="1.9"/><circle cx="637.20" cy="517.25" r="1.9"/><circle cx="647.90" cy="527.83" r="1.9"/><circle cx="669.30" cy="564.00" r="1.9"/></g>
<path d="M551.60 552.33C552.49 552.62 555.17 553.40 556.95 554.08C558.73 554.76 560.52 555.84 562.30 556.42C564.08 557.00 565.87 557.39 567.65 557.58C569.43 557.58 571.22 557.58 573.00 557.58C574.78 557.48 576.57 557.58 578.35 557.00C580.13 555.15 581.92 552.92 583.70 546.50C585.48 540.08 587.27 521.03 589.05 518.50C590.83 518.50 592.62 527.44 594.40 531.33C596.18 535.22 597.97 540.18 599.75 541.83C601.53 541.83 603.32 541.54 605.10 541.25C606.88 540.96 608.67 540.37 610.45 540.08C612.23 539.79 614.02 539.60 615.80 539.50C617.58 539.50 619.37 539.50 621.15 539.50C622.93 539.50 624.72 539.50 626.50 539.50C628.28 539.21 630.07 538.33 631.85 537.75C633.63 537.17 635.42 537.75 637.20 536.00C638.98 533.57 640.77 527.06 642.55 523.17C644.33 519.28 646.12 513.64 647.90 512.67C649.68 512.67 651.47 514.22 653.25 517.33C655.03 520.44 656.82 527.15 658.60 531.33C660.38 535.51 662.17 540.28 663.95 542.42C665.73 544.17 667.52 543.29 669.30 544.17C671.08 545.04 673.76 547.09 674.65 547.67" stroke="#ee1014" stroke-width="3.8" stroke-linecap="round" fill="none" stroke-linejoin="round"/>
<rect x="543.65" y="430.90" width="138.50" height="175.20" fill="none" stroke="#2b2b2b" stroke-width="1.6"/>
<rect x="698.00" y="430.90" width="138.50" height="175.20" fill="#fff"/>
<path d="M722.00 430.90V606.10M754.10 430.90V606.10M786.20 430.90V606.10M818.30 430.90V606.10M698.00 584.77H836.50M698.00 539.23H836.50M698.00 493.68H836.50M698.00 448.12H836.50" stroke="#ebebeb" stroke-width="1" fill="none"/>
<path d="M705.95 430.90V606.10M738.05 430.90V606.10M770.15 430.90V606.10M802.25 430.90V606.10M834.35 430.90V606.10M698.00 562.00H836.50M698.00 516.45H836.50M698.00 470.90H836.50" stroke="#ebebeb" stroke-width="2" fill="none"/>
<path d="M705.95 555.83V565.17M711.30 554.67V565.75M716.65 553.50V565.17M722.00 553.50V566.33M727.35 556.42V565.17M732.70 552.33V566.33M738.05 523.75V566.33M743.40 507.92V540.67M748.75 507.92V574.50M754.10 539.50V546.50M759.45 534.25V545.33M764.80 531.33V544.17M770.15 528.42V548.83M775.50 522.58V550.00M780.85 525.50V545.33M786.20 517.33V546.50M791.55 525.50V545.33M796.90 496.25V575.67M802.25 500.33V522.00M807.60 505.00V539.50M812.95 501.50V544.17M818.30 535.42V565.17M823.65 555.83V566.33M829.00 555.25V566.33" stroke="#333" stroke-width="2.1" fill="none"/>
<path d="M703.55 557.00h4.8V561.67h-4.8ZM708.90 555.83h4.8V561.67h-4.8ZM714.25 557.00h4.8V562.83h-4.8ZM719.60 557.00h4.8V562.83h-4.8ZM724.95 558.75h4.8V562.83h-4.8ZM730.30 554.67h4.8V561.67h-4.8ZM735.65 532.50h4.8V555.83h-4.8ZM741.00 515.50h4.8V537.17h-4.8ZM746.35 522.00h4.8V546.50h-4.8ZM751.70 541.25h4.8V544.75h-4.8ZM757.05 539.50h4.8V543.00h-4.8ZM762.40 538.33h4.8V543.58h-4.8ZM767.75 537.17h4.8V544.17h-4.8ZM773.10 537.17h4.8V544.75h-4.8ZM778.45 536.00h4.8V543.00h-4.8ZM783.80 533.67h4.8V544.17h-4.8ZM789.15 532.50h4.8V543.00h-4.8ZM794.50 512.00h4.8V541.83h-4.8ZM799.85 505.00h4.8V518.50h-4.8ZM805.20 509.67h4.8V526.67h-4.8ZM810.55 516.67h4.8V541.83h-4.8ZM815.90 544.17h4.8V558.17h-4.8ZM821.25 557.00h4.8V562.83h-4.8ZM826.60 558.17h4.8V562.25h-4.8Z" stroke="#35353f" stroke-width="1.9" fill="#1a1aa8"/>
<g fill="#333"><circle cx="705.95" cy="538.92" r="1.9"/><circle cx="705.95" cy="542.42" r="1.9"/><circle cx="705.95" cy="545.92" r="1.9"/><circle cx="705.95" cy="549.42" r="1.9"/><circle cx="705.95" cy="566.33" r="1.9"/><circle cx="705.95" cy="568.67" r="1.9"/><circle cx="711.30" cy="541.25" r="1.9"/><circle cx="711.30" cy="544.75" r="1.9"/><circle cx="711.30" cy="548.25" r="1.9"/><circle cx="711.30" cy="551.75" r="1.9"/><circle cx="716.65" cy="551.75" r="1.9"/><circle cx="727.35" cy="566.33" r="1.9"/><circle cx="743.40" cy="535.42" r="1.9"/><circle cx="754.10" cy="575.67" r="1.9"/><circle cx="759.45" cy="575.08" r="1.9"/><circle cx="764.80" cy="575.67" r="1.9"/><circle cx="770.15" cy="574.50" r="1.9"/><circle cx="775.50" cy="575.08" r="1.9"/><circle cx="780.85" cy="502.08" r="1.9"/><circle cx="780.85" cy="506.17" r="1.9"/><circle cx="780.85" cy="509.67" r="1.9"/><circle cx="780.85" cy="513.17" r="1.9"/><circle cx="780.85" cy="574.50" r="1.9"/><circle cx="780.85" cy="576.83" r="1.9"/><circle cx="786.20" cy="510.25" r="1.9"/><circle cx="786.20" cy="513.17" r="1.9"/><circle cx="786.20" cy="573.92" r="1.9"/><circle cx="786.20" cy="576.83" r="1.9"/><circle cx="791.55" cy="500.92" r="1.9"/><circle cx="791.55" cy="504.42" r="1.9"/><circle cx="791.55" cy="507.92" r="1.9"/><circle cx="791.55" cy="511.42" r="1.9"/><circle cx="791.55" cy="573.92" r="1.9"/><circle cx="791.55" cy="576.83" r="1.9"/><circle cx="802.25" cy="479.33" r="1.9"/><circle cx="802.25" cy="489.25" r="1.9"/><circle cx="802.25" cy="492.17" r="1.9"/><circle cx="802.25" cy="495.08" r="1.9"/><circle cx="802.25" cy="524.83" r="1.9"/><circle cx="802.25" cy="524.33" r="1.9"/><circle cx="802.25" cy="538.92" r="1.9"/></g>
<path d="M705.95 558.75C706.84 558.94 709.52 559.63 711.30 559.92C713.08 560.21 714.87 560.31 716.65 560.50C718.43 560.69 720.22 560.98 722.00 561.08C723.78 561.08 725.57 561.08 727.35 561.08C729.13 560.60 730.92 560.60 732.70 558.17C734.48 555.74 736.27 552.92 738.05 546.50C739.83 540.08 741.62 521.03 743.40 519.67C745.18 519.67 746.97 533.66 748.75 538.33C750.53 543.00 752.32 546.40 754.10 547.67C755.88 547.67 757.67 546.31 759.45 545.92C761.23 545.53 763.02 545.53 764.80 545.33C766.58 545.13 768.37 544.94 770.15 544.75C771.93 544.56 773.72 544.56 775.50 544.17C777.28 543.78 779.07 542.91 780.85 542.42C782.63 541.93 784.42 541.83 786.20 541.25C787.98 540.67 789.77 540.77 791.55 538.92C793.33 537.07 795.12 534.54 796.90 530.17C798.68 525.79 800.47 514.62 802.25 512.67C804.03 512.67 805.82 515.39 807.60 518.50C809.38 521.61 811.17 525.50 812.95 531.33C814.73 537.16 816.52 548.64 818.30 553.50C820.08 558.36 821.87 559.33 823.65 560.50C825.43 560.50 828.11 560.50 829.00 560.50" stroke="#ee1014" stroke-width="3.8" stroke-linecap="round" fill="none" stroke-linejoin="round"/>
<rect x="698.00" y="430.90" width="138.50" height="175.20" fill="none" stroke="#2b2b2b" stroke-width="1.6"/>
<rect x="852.35" y="430.90" width="138.50" height="175.20" fill="#fff"/>
<path d="M876.35 430.90V606.10M908.45 430.90V606.10M940.55 430.90V606.10M972.65 430.90V606.10M852.35 584.77H990.85M852.35 539.23H990.85M852.35 493.68H990.85M852.35 448.12H990.85" stroke="#ebebeb" stroke-width="1" fill="none"/>
<path d="M860.30 430.90V606.10M892.40 430.90V606.10M924.50 430.90V606.10M956.60 430.90V606.10M988.70 430.90V606.10M852.35 562.00H990.85M852.35 516.45H990.85M852.35 470.90H990.85" stroke="#ebebeb" stroke-width="2" fill="none"/>
<path d="M860.30 553.27V563.77M865.65 553.27V563.77M871.00 553.27V563.77M876.35 553.27V563.77M881.70 553.27V563.77M887.05 553.27V563.77M892.40 553.27V563.77M897.75 530.17V553.50M903.10 531.33V569.83M908.45 562.83V569.25M913.80 564.00V569.25M919.15 564.00V569.25M924.50 564.00V569.25M929.85 561.67V569.25M935.20 564.00V569.83M940.55 562.83V569.25M945.90 560.50V569.25M951.25 530.17V568.67M956.60 529.58V553.50M961.95 553.27V563.77M967.30 553.27V563.77M972.65 553.27V563.77M978.00 553.27V563.77M983.35 553.27V563.77" stroke="#333" stroke-width="2.1" fill="none"/>
<path d="M857.90 555.25h4.8V558.75h-4.8ZM863.25 555.25h4.8V558.75h-4.8ZM868.60 555.25h4.8V558.75h-4.8ZM873.95 555.25h4.8V558.75h-4.8ZM879.30 555.25h4.8V558.75h-4.8ZM884.65 555.25h4.8V558.75h-4.8ZM890.00 555.25h4.8V558.75h-4.8ZM895.35 533.08h4.8V540.67h-4.8ZM900.70 536.00h4.8V566.33h-4.8ZM906.05 565.17h4.8V568.67h-4.8ZM911.40 565.17h4.8V568.08h-4.8ZM916.75 566.33h4.8V568.67h-4.8ZM922.10 566.33h4.8V568.08h-4.8ZM927.45 566.33h4.8V568.08h-4.8ZM932.80 566.33h4.8V568.67h-4.8ZM938.15 566.33h4.8V568.08h-4.8ZM943.50 565.17h4.8V568.67h-4.8ZM948.85 548.83h4.8V567.50h-4.8ZM954.20 534.25h4.8V541.83h-4.8ZM959.55 555.25h4.8V558.75h-4.8ZM964.90 555.25h4.8V558.75h-4.8ZM970.25 555.25h4.8V558.75h-4.8ZM975.60 555.25h4.8V558.75h-4.8ZM980.95 555.25h4.8V558.75h-4.8Z" stroke="#35353f" stroke-width="1.9" fill="#1a1aa8"/>
<g fill="#333"><circle cx="860.30" cy="552.92" r="1.9"/><circle cx="860.30" cy="564.58" r="1.9"/><circle cx="865.65" cy="552.33" r="1.9"/><circle cx="865.65" cy="565.17" r="1.9"/><circle cx="871.00" cy="551.75" r="1.9"/><circle cx="871.00" cy="562.25" r="1.9"/><circle cx="876.35" cy="552.92" r="1.9"/><circle cx="876.35" cy="564.00" r="1.9"/><circle cx="881.70" cy="552.33" r="1.9"/><circle cx="881.70" cy="564.00" r="1.9"/><circle cx="887.05" cy="552.92" r="1.9"/><circle cx="887.05" cy="564.58" r="1.9"/><circle cx="892.40" cy="564.58" r="1.9"/><circle cx="908.45" cy="561.08" r="1.9"/><circle cx="913.80" cy="560.50" r="1.9"/><circle cx="913.80" cy="562.83" r="1.9"/><circle cx="919.15" cy="559.33" r="1.9"/><circle cx="919.15" cy="561.67" r="1.9"/><circle cx="924.50" cy="561.67" r="1.9"/><circle cx="935.20" cy="558.75" r="1.9"/><circle cx="935.20" cy="561.08" r="1.9"/><circle cx="940.55" cy="557.58" r="1.9"/><circle cx="940.55" cy="560.50" r="1.9"/><circle cx="956.60" cy="556.42" r="1.9"/><circle cx="956.60" cy="559.33" r="1.9"/><circle cx="956.60" cy="564.00" r="1.9"/><circle cx="961.95" cy="564.00" r="1.9"/><circle cx="961.95" cy="565.75" r="1.9"/><circle cx="967.30" cy="553.50" r="1.9"/><circle cx="967.30" cy="564.58" r="1.9"/><circle cx="972.65" cy="552.92" r="1.9"/><circle cx="972.65" cy="564.58" r="1.9"/><circle cx="978.00" cy="552.33" r="1.9"/><circle cx="978.00" cy="565.17" r="1.9"/><circle cx="983.35" cy="552.33" r="1.9"/><circle cx="983.35" cy="562.83" r="1.9"/></g>
<path d="M860.30 557.00C861.19 557.00 863.87 557.00 865.65 557.00C867.43 557.00 869.22 557.00 871.00 557.00C872.78 557.00 874.57 557.00 876.35 557.00C878.13 557.00 879.92 557.00 881.70 557.00C883.48 557.00 885.27 557.00 887.05 557.00C888.83 557.00 890.62 557.00 892.40 557.00C894.18 553.79 895.97 537.75 897.75 537.75C899.53 537.94 901.32 553.12 903.10 558.17C904.88 563.22 906.67 566.53 908.45 568.08C910.23 568.08 912.02 567.50 913.80 567.50C915.58 567.50 917.37 568.08 919.15 568.08C920.93 568.08 922.72 567.60 924.50 567.50C926.28 567.50 928.07 567.50 929.85 567.50C931.63 567.40 933.42 566.92 935.20 566.92C936.98 566.92 938.77 567.40 940.55 567.50C942.33 567.50 944.12 567.50 945.90 567.50C947.68 566.14 949.47 564.00 951.25 559.33C953.03 554.66 954.82 539.89 956.60 539.50C958.38 539.50 960.17 554.08 961.95 557.00C963.73 557.00 965.52 557.00 967.30 557.00C969.08 557.00 970.87 557.00 972.65 557.00C974.43 557.00 976.22 557.00 978.00 557.00C979.78 557.00 982.46 557.00 983.35 557.00" stroke="#ee1014" stroke-width="3.8" stroke-linecap="round" fill="none" stroke-linejoin="round"/>
<rect x="852.35" y="430.90" width="138.50" height="175.20" fill="none" stroke="#2b2b2b" stroke-width="1.6"/>
<rect x="1006.70" y="430.90" width="138.50" height="175.20" fill="#fff"/>
<path d="M1030.70 430.90V606.10M1062.80 430.90V606.10M1094.90 430.90V606.10M1127.00 430.90V606.10M1006.70 584.77H1145.20M1006.70 539.23H1145.20M1006.70 493.68H1145.20M1006.70 448.12H1145.20" stroke="#ebebeb" stroke-width="1" fill="none"/>
<path d="M1014.65 430.90V606.10M1046.75 430.90V606.10M1078.85 430.90V606.10M1110.95 430.90V606.10M1143.05 430.90V606.10M1006.70 562.00H1145.20M1006.70 516.45H1145.20M1006.70 470.90H1145.20" stroke="#ebebeb" stroke-width="2" fill="none"/>
<path d="M1014.65 552.92V563.07M1020.00 552.92V563.07M1025.35 552.92V563.07M1030.70 552.92V563.07M1036.05 552.92V563.07M1041.40 552.92V563.07M1046.75 552.92V563.07M1052.10 552.92V563.07M1057.45 552.33V596.67M1062.80 585.00V597.25M1068.15 585.00V597.25M1073.50 585.00V596.67M1078.85 567.50V596.67M1084.20 585.00V596.67M1089.55 585.00V597.25M1094.90 589.67V597.25M1100.25 588.50V597.25M1105.60 550.00V596.67M1110.95 553.50V560.50M1116.30 552.92V563.07M1121.65 552.92V563.07M1127.00 552.92V563.07M1132.35 540.67V562.83M1137.70 540.67V564.00" stroke="#333" stroke-width="2.1" fill="none"/>
<path d="M1012.25 554.67h4.8V559.33h-4.8ZM1017.60 554.67h4.8V558.75h-4.8ZM1022.95 554.67h4.8V558.75h-4.8ZM1028.30 554.67h4.8V558.75h-4.8ZM1033.65 554.67h4.8V558.75h-4.8ZM1039.00 554.67h4.8V558.75h-4.8ZM1044.35 554.67h4.8V558.75h-4.8ZM1049.70 555.25h4.8V558.75h-4.8ZM1055.05 558.17h4.8V595.50h-4.8ZM1060.40 593.17h4.8V596.67h-4.8ZM1065.75 594.33h4.8V596.67h-4.8ZM1071.10 592.00h4.8V595.50h-4.8ZM1076.45 582.67h4.8V595.50h-4.8ZM1081.80 590.83h4.8V595.50h-4.8ZM1087.15 593.17h4.8V596.67h-4.8ZM1092.50 594.33h4.8V596.67h-4.8ZM1097.85 594.33h4.8V596.67h-4.8ZM1103.20 576.83h4.8V595.50h-4.8ZM1108.55 554.08h4.8V559.33h-4.8ZM1113.90 554.67h4.8V559.33h-4.8ZM1119.25 554.67h4.8V559.33h-4.8ZM1124.60 555.25h4.8V559.33h-4.8ZM1129.95 550.00h4.8V558.17h-4.8ZM1135.30 550.00h4.8V557.00h-4.8Z" stroke="#35353f" stroke-width="1.9" fill="#1a1aa8"/>
<g fill="#333"><circle cx="1014.65" cy="534.83" r="1.9"/><circle cx="1014.65" cy="537.75" r="1.9"/><circle cx="1014.65" cy="546.50" r="1.9"/><circle cx="1014.65" cy="562.83" r="1.9"/><circle cx="1020.00" cy="563.42" r="1.9"/><circle cx="1020.00" cy="566.33" r="1.9"/><circle cx="1025.35" cy="563.42" r="1.9"/><circle cx="1025.35" cy="565.17" r="1.9"/><circle cx="1030.70" cy="563.42" r="1.9"/><circle cx="1036.05" cy="563.42" r="1.9"/><circle cx="1041.40" cy="549.42" r="1.9"/><circle cx="1041.40" cy="551.75" r="1.9"/><circle cx="1041.40" cy="562.25" r="1.9"/><circle cx="1041.40" cy="564.00" r="1.9"/><circle cx="1046.75" cy="549.42" r="1.9"/><circle cx="1046.75" cy="562.83" r="1.9"/><circle cx="1046.75" cy="564.00" r="1.9"/><circle cx="1052.10" cy="550.00" r="1.9"/><circle cx="1052.10" cy="562.25" r="1.9"/><circle cx="1052.10" cy="565.17" r="1.9"/><circle cx="1062.80" cy="569.83" r="1.9"/><circle cx="1062.80" cy="586.17" r="1.9"/><circle cx="1062.80" cy="589.08" r="1.9"/><circle cx="1068.15" cy="569.83" r="1.9"/><circle cx="1068.15" cy="572.75" r="1.9"/><circle cx="1073.50" cy="570.42" r="1.9"/><circle cx="1073.50" cy="573.33" r="1.9"/><circle cx="1073.50" cy="576.25" r="1.9"/><circle cx="1073.50" cy="587.92" r="1.9"/><circle cx="1084.20" cy="569.83" r="1.9"/><circle cx="1084.20" cy="573.33" r="1.9"/><circle cx="1084.20" cy="579.17" r="1.9"/><circle cx="1084.20" cy="582.08" r="1.9"/><circle cx="1084.20" cy="585.00" r="1.9"/><circle cx="1089.55" cy="571.00" r="1.9"/><circle cx="1089.55" cy="573.92" r="1.9"/><circle cx="1089.55" cy="580.92" r="1.9"/><circle cx="1089.55" cy="584.42" r="1.9"/><circle cx="1094.90" cy="569.25" r="1.9"/><circle cx="1094.90" cy="575.67" r="1.9"/><circle cx="1094.90" cy="581.50" r="1.9"/><circle cx="1100.25" cy="567.50" r="1.9"/><circle cx="1100.25" cy="571.00" r="1.9"/><circle cx="1110.95" cy="572.75" r="1.9"/><circle cx="1110.95" cy="586.75" r="1.9"/><circle cx="1110.95" cy="592.58" r="1.9"/><circle cx="1110.95" cy="595.50" r="1.9"/><circle cx="1116.30" cy="530.17" r="1.9"/><circle cx="1116.30" cy="535.42" r="1.9"/><circle cx="1116.30" cy="562.83" r="1.9"/><circle cx="1121.65" cy="532.50" r="1.9"/><circle cx="1121.65" cy="537.75" r="1.9"/><circle cx="1121.65" cy="564.00" r="1.9"/><circle cx="1127.00" cy="536.58" r="1.9"/><circle cx="1127.00" cy="541.25" r="1.9"/><circle cx="1127.00" cy="564.00" r="1.9"/><circle cx="1132.35" cy="532.50" r="1.9"/><circle cx="1132.35" cy="535.42" r="1.9"/><circle cx="1132.35" cy="537.75" r="1.9"/><circle cx="1137.70" cy="531.33" r="1.9"/><circle cx="1137.70" cy="534.25" r="1.9"/><circle cx="1137.70" cy="536.58" r="1.9"/></g>
<path d="M1014.65 556.42C1015.54 556.52 1018.22 556.90 1020.00 557.00C1021.78 557.00 1023.57 557.00 1025.35 557.00C1027.13 557.00 1028.92 557.00 1030.70 557.00C1032.48 557.00 1034.27 557.00 1036.05 557.00C1037.83 557.00 1039.62 557.00 1041.40 557.00C1043.18 557.00 1044.97 557.00 1046.75 557.00C1048.53 556.90 1050.32 556.42 1052.10 556.42C1053.88 560.31 1055.67 574.01 1057.45 580.33C1059.23 586.65 1061.02 591.90 1062.80 594.33C1064.58 594.92 1066.37 594.92 1068.15 594.92C1069.93 594.63 1071.72 593.46 1073.50 592.58C1075.28 591.71 1077.07 589.77 1078.85 589.67C1080.63 589.67 1082.42 591.22 1084.20 592.00C1085.98 592.78 1087.77 593.84 1089.55 594.33C1091.33 594.82 1093.12 594.82 1094.90 594.92C1096.68 594.92 1098.47 594.92 1100.25 594.92C1102.03 593.27 1103.82 590.54 1105.60 585.00C1107.38 579.46 1109.17 566.43 1110.95 561.67C1112.73 556.91 1114.52 557.39 1116.30 556.42C1118.08 555.83 1119.87 556.03 1121.65 555.83C1123.43 555.63 1125.22 555.64 1127.00 555.25C1128.78 554.86 1130.57 553.99 1132.35 553.50C1134.13 553.01 1136.81 552.53 1137.70 552.33" stroke="#ee1014" stroke-width="3.8" stroke-linecap="round" fill="none" stroke-linejoin="round"/>
<rect x="1006.70" y="430.90" width="138.50" height="175.20" fill="none" stroke="#2b2b2b" stroke-width="1.6"/>
<path d="M73.2 181.60H80.6" stroke="#333" stroke-width="2"/>
<text x="66" y="189.80" font-family="Liberation Sans" font-size="22.5" fill="#4d4d4d" text-anchor="end">5</text>
<path d="M73.2 136.05H80.6" stroke="#333" stroke-width="2"/>
<text x="66" y="144.25" font-family="Liberation Sans" font-size="22.5" fill="#4d4d4d" text-anchor="end">10</text>
<path d="M73.2 90.50H80.6" stroke="#333" stroke-width="2"/>
<text x="66" y="98.70" font-family="Liberation Sans" font-size="22.5" fill="#4d4d4d" text-anchor="end">15</text>
<path d="M73.2 371.80H80.6" stroke="#333" stroke-width="2"/>
<text x="66" y="380.00" font-family="Liberation Sans" font-size="22.5" fill="#4d4d4d" text-anchor="end">5</text>
<path d="M73.2 326.25H80.6" stroke="#333" stroke-width="2"/>
<text x="66" y="334.45" font-family="Liberation Sans" font-size="22.5" fill="#4d4d4d" text-anchor="end">10</text>
<path d="M73.2 280.70H80.6" stroke="#333" stroke-width="2"/>
<text x="66" y="288.90" font-family="Liberation Sans" font-size="22.5" fill="#4d4d4d" text-anchor="end">15</text>
<path d="M73.2 562.00H80.6" stroke="#333" stroke-width="2"/>
<text x="66" y="570.20" font-family="Liberation Sans" font-size="22.5" fill="#4d4d4d" text-anchor="end">5</text>
<path d="M73.2 516.45H80.6" stroke="#333" stroke-width="2"/>
<text x="66" y="524.65" font-family="Liberation Sans" font-size="22.5" fill="#4d4d4d" text-anchor="end">10</text>
<path d="M73.2 470.90H80.6" stroke="#333" stroke-width="2"/>
<text x="66" y="479.10" font-family="Liberation Sans" font-size="22.5" fill="#4d4d4d" text-anchor="end">15</text>
<path d="M88.55 606.10V613" stroke="#333" stroke-width="2"/>
<text x="88.55" y="636" font-family="Liberation Sans" font-size="22.5" fill="#4d4d4d" text-anchor="middle">0</text>
<path d="M120.65 606.10V613" stroke="#333" stroke-width="2"/>
<text x="120.65" y="636" font-family="Liberation Sans" font-size="22.5" fill="#4d4d4d" text-anchor="middle">6</text>
<path d="M152.75 606.10V613" stroke="#333" stroke-width="2"/>
<text x="152.75" y="636" font-family="Liberation Sans" font-size="22.5" fill="#4d4d4d" text-anchor="middle">12</text>
<path d="M184.85 606.10V613" stroke="#333" stroke-width="2"/>
<text x="184.85" y="636" font-family="Liberation Sans" font-size="22.5" fill="#4d4d4d" text-anchor="middle">18</text>
<path d="M216.95 606.10V613" stroke="#333" stroke-width="2"/>
<text x="216.95" y="636" font-family="Liberation Sans" font-size="22.5" fill="#4d4d4d" text-anchor="middle">24</text>
<path d="M242.90 606.10V613" stroke="#333" stroke-width="2"/>
<text x="242.90" y="636" font-family="Liberation Sans" font-size="22.5" fill="#4d4d4d" text-anchor="middle">0</text>
<path d="M275.00 606.10V613" stroke="#333" stroke-width="2"/>
<text x="275.00" y="636" font-family="Liberation Sans" font-size="22.5" fill="#4d4d4d" text-anchor="middle">6</text>
<path d="M307.10 606.10V613" stroke="#333" stroke-width="2"/>
<text x="307.10" y="636" font-family="Liberation Sans" font-size="22.5" fill="#4d4d4d" text-anchor="middle">12</text>
<path d="M339.20 606.10V613" stroke="#333" stroke-width="2"/>
<text x="339.20" y="636" font-family="Liberation Sans" font-size="22.5" fill="#4d4d4d" text-anchor="middle">18</text>
<path d="M371.30 606.10V613" stroke="#333" stroke-width="2"/>
<text x="371.30" y="636" font-family="Liberation Sans" font-size="22.5" fill="#4d4d4d" text-anchor="middle">24</text>
<path d="M397.25 606.10V613" stroke="#333" stroke-width="2"/>
<text x="397.25" y="636" font-family="Liberation Sans" font-size="22.5" fill="#4d4d4d" text-anchor="middle">0</text>
<path d="M429.35 606.10V613" stroke="#333" stroke-width="2"/>
<text x="429.35" y="636" font-family="Liberation Sans" font-size="22.5" fill="#4d4d4d" text-anchor="middle">6</text>
<path d="M461.45 606.10V613" stroke="#333" stroke-width="2"/>
<text x="461.45" y="636" font-family="Liberation Sans" font-size="22.5" fill="#4d4d4d" text-anchor="middle">12</text>
<path d="M493.55 606.10V613" stroke="#333" stroke-width="2"/>
<text x="493.55" y="636" font-family="Liberation Sans" font-size="22.5" fill="#4d4d4d" text-anchor="middle">18</text>
<path d="M525.65 606.10V613" stroke="#333" stroke-width="2"/>
<text x="525.65" y="636" font-family="Liberation Sans" font-size="22.5" fill="#4d4d4d" text-anchor="middle">24</text>
<path d="M551.60 606.10V613" stroke="#333" stroke-width="2"/>
<text x="551.60" y="636" font-family="Liberation Sans" font-size="22.5" fill="#4d4d4d" text-anchor="middle">0</text>
<path d="M583.70 606.10V613" stroke="#333" stroke-width="2"/>
<text x="583.70" y="636" font-family="Liberation Sans" font-size="22.5" fill="#4d4d4d" text-anchor="middle">6</text>
<path d="M615.80 606.10V613" stroke="#333" stroke-width="2"/>
<text x="615.80" y="636" font-family="Liberation Sans" font-size="22.5" fill="#4d4d4d" text-anchor="middle">12</text>
<path d="M647.90 606.10V613" stroke="#333" stroke-width="2"/>
<text x="647.90" y="636" font-family="Liberation Sans" font-size="22.5" fill="#4d4d4d" text-anchor="middle">18</text>
<path d="M680.00 606.10V613" stroke="#333" stroke-width="2"/>
<text x="680.00" y="636" font-family="Liberation Sans" font-size="22.5" fill="#4d4d4d" text-anchor="middle">24</text>
<path d="M705.95 606.10V613" stroke="#333" stroke-width="2"/>
<text x="705.95" y="636" font-family="Liberation Sans" font-size="22.5" fill="#4d4d4d" text-anchor="middle">0</text>
<path d="M738.05 606.10V613" stroke="#333" stroke-width="2"/>
<text x="738.05" y="636" font-family="Liberation Sans" font-size="22.5" fill="#4d4d4d" text-anchor="middle">6</text>
<path d="M770.15 606.10V613" stroke="#333" stroke-width="2"/>
<text x="770.15" y="636" font-family="Liberation Sans" font-size="22.5" fill="#4d4d4d" text-anchor="middle">12</text>
<path d="M802.25 606.10V613" stroke="#333" stroke-width="2"/>
<text x="802.25" y="636" font-family="Liberation Sans" font-size="22.5" fill="#4d4d4d" text-anchor="middle">18</text>
<path d="M834.35 606.10V613" stroke="#333" stroke-width="2"/>
<text x="834.35" y="636" font-family="Liberation Sans" font-size="22.5" fill="#4d4d4d" text-anchor="middle">24</text>
<path d="M860.30 606.10V613" stroke="#333" stroke-width="2"/>
<text x="860.30" y="636" font-family="Liberation Sans" font-size="22.5" fill="#4d4d4d" text-anchor="middle">0</text>
<path d="M892.40 606.10V613" stroke="#333" stroke-width="2"/>
<text x="892.40" y="636" font-family="Liberation Sans" font-size="22.5" fill="#4d4d4d" text-anchor="middle">6</text>
<path d="M924.50 606.10V613" stroke="#333" stroke-width="2"/>
<text x="924.50" y="636" font-family="Liberation Sans" font-size="22.5" fill="#4d4d4d" text-anchor="middle">12</text>
<path d="M956.60 606.10V613" stroke="#333" stroke-width="2"/>
<text x="956.60" y="636" font-family="Liberation Sans" font-size="22.5" fill="#4d4d4d" text-anchor="middle">18</text>
<path d="M988.70 606.10V613" stroke="#333" stroke-width="2"/>
<text x="988.70" y="636" font-family="Liberation Sans" font-size="22.5" fill="#4d4d4d" text-anchor="middle">24</text>
<path d="M1014.65 606.10V613" stroke="#333" stroke-width="2"/>
<text x="1014.65" y="636" font-family="Liberation Sans" font-size="22.5" fill="#4d4d4d" text-anchor="middle">0</text>
<path d="M1046.75 606.10V613" stroke="#333" stroke-width="2"/>
<text x="1046.75" y="636" font-family="Liberation Sans" font-size="22.5" fill="#4d4d4d" text-anchor="middle">6</text>
<path d="M1078.85 606.10V613" stroke="#333" stroke-width="2"/>
<text x="1078.85" y="636" font-family="Liberation Sans" font-size="22.5" fill="#4d4d4d" text-anchor="middle">12</text>
<path d="M1110.95 606.10V613" stroke="#333" stroke-width="2"/>
<text x="1110.95" y="636" font-family="Liberation Sans" font-size="22.5" fill="#4d4d4d" text-anchor="middle">18</text>
<path d="M1143.05 606.10V613" stroke="#333" stroke-width="2"/>
<text x="1143.05" y="636" font-family="Liberation Sans" font-size="22.5" fill="#4d4d4d" text-anchor="middle">24</text>
<text x="613" y="670.5" font-family="Liberation Sans" font-size="29" fill="#000" text-anchor="middle">Time of Day</text>
<text transform="translate(29,328) rotate(-90)" font-family="Liberation Sans" font-size="29" fill="#000" text-anchor="middle">Energy (kWh)</text>
<text x="4.5" y="713.6" font-family="Liberation Serif" font-size="18" fill="#231f20" textLength="1186.3" lengthAdjust="spacingAndGlyphs"><tspan font-weight="bold" stroke-width="0">Fig 1. </tspan><tspan font-weight="bold" stroke-width="0" dx="-1.5">Energy pattern snapshot.</tspan> Time series representation of the characteristic energy consumption of a building from Monday through Friday in the</text>
<text x="4.5" y="737.2" font-family="Liberation Serif" font-size="18" fill="#231f20" textLength="1184.5" lengthAdjust="spacingAndGlyphs">past full year and during the summer (June, July, and August) and winter (December, January, and February) months. The blue vertical boxes show the</text>
<text x="4.5" y="760.6" font-family="Liberation Serif" font-size="18" fill="#231f20" textLength="1170.7" lengthAdjust="spacingAndGlyphs">distribution (middle 50% variability) of energy consumption for the given hour across each season. The whiskers indicate the minimum to maximum</text>
<text x="4.5" y="784.0" font-family="Liberation Serif" font-size="18" fill="#231f20" textLength="253.5" lengthAdjust="spacingAndGlyphs">consumption, excluding outliers.</text>
<rect x="3.5" y="698.5" width="52" height="19.5" fill="none" stroke="#7ba7d7" stroke-width="1"/>
</svg></body></html>
